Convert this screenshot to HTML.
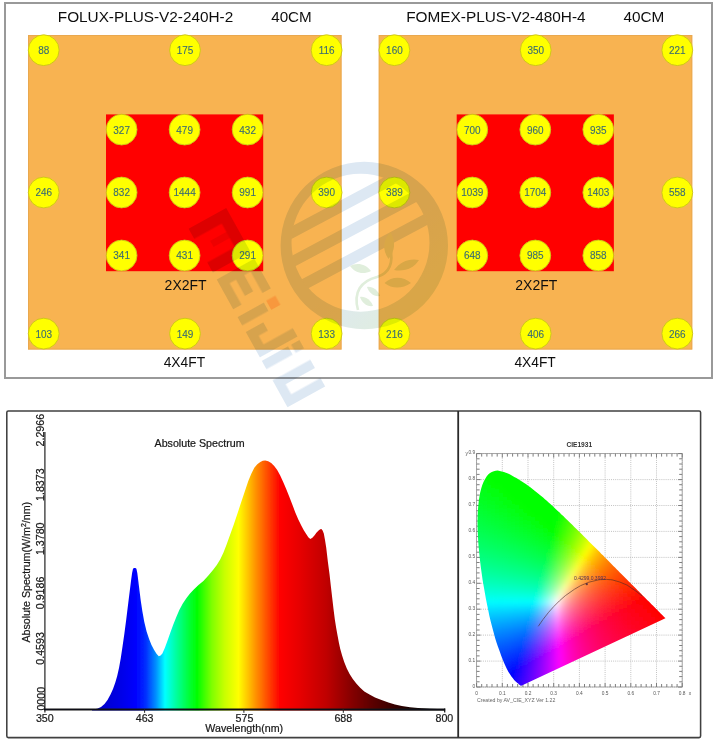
<!DOCTYPE html>
<html><head><meta charset="utf-8"><title>PPFD map and spectrum</title>
<style>
html,body{margin:0;padding:0;background:#fff;}
body{width:713px;height:746px;overflow:hidden;position:relative;font-family:"Liberation Sans", sans-serif;}
svg{position:absolute;left:0;top:0;display:block;}
text{font-family:"Liberation Sans", sans-serif;}
</style></head><body>
<svg width="713" height="746" viewBox="0 0 713 746">
<defs>
<linearGradient id="sg" gradientUnits="userSpaceOnUse" x1="97" y1="0" x2="445" y2="0">
<stop offset="0.0000" stop-color="#0000c8"/>
<stop offset="0.0661" stop-color="#0000e6"/>
<stop offset="0.1121" stop-color="#0000ff"/>
<stop offset="0.1408" stop-color="#0030ff"/>
<stop offset="0.1695" stop-color="#0090ff"/>
<stop offset="0.1954" stop-color="#00ffff"/>
<stop offset="0.2270" stop-color="#00ffa0"/>
<stop offset="0.2615" stop-color="#00ff40"/>
<stop offset="0.2874" stop-color="#00ff00"/>
<stop offset="0.3305" stop-color="#80ff00"/>
<stop offset="0.3664" stop-color="#c8ff00"/>
<stop offset="0.4066" stop-color="#ffff00"/>
<stop offset="0.4356" stop-color="#ffc000"/>
<stop offset="0.4569" stop-color="#ff9000"/>
<stop offset="0.4914" stop-color="#ff4800"/>
<stop offset="0.5259" stop-color="#ff0000"/>
<stop offset="0.5833" stop-color="#e60000"/>
<stop offset="0.6580" stop-color="#c00000"/>
<stop offset="0.6983" stop-color="#a00000"/>
<stop offset="0.7385" stop-color="#800000"/>
<stop offset="0.7845" stop-color="#600000"/>
<stop offset="0.8362" stop-color="#400000"/>
<stop offset="0.8908" stop-color="#200000"/>
<stop offset="0.9425" stop-color="#080000"/>
<stop offset="1.0000" stop-color="#000000"/>
</linearGradient>
<filter id="b0" x="-2%" y="-2%" width="104%" height="104%"><feGaussianBlur stdDeviation="0.32"/></filter>
<filter id="b1" x="-5%" y="-5%" width="110%" height="110%"><feGaussianBlur stdDeviation="0.45"/></filter>
<filter id="b2" x="-5%" y="-5%" width="110%" height="110%"><feGaussianBlur stdDeviation="0.7"/></filter>
<filter id="b3" x="-5%" y="-5%" width="110%" height="110%"><feGaussianBlur stdDeviation="2.2"/></filter>
</defs>
<rect x="5" y="3" width="707" height="375" fill="#fff" stroke="#999" stroke-width="2"/>
<g filter="url(#b0)">
<rect x="28.0" y="35" width="313.6" height="314.6" fill="#f8b351"/>
<rect x="28.5" y="35.5" width="312.6" height="313.6" fill="none" stroke="#e0a050" stroke-width="1" opacity="0.6"/>
<rect x="106.0" y="114.4" width="157.2" height="156.8" fill="#ff0000"/>
<text x="57.8" y="22.3" font-size="14.2" fill="#111" lengthAdjust="spacingAndGlyphs" textLength="175.4">FOLUX-PLUS-V2-240H-2</text>
<text x="271.2" y="22.3" font-size="14.2" fill="#111" lengthAdjust="spacingAndGlyphs" textLength="40.6">40CM</text>
<text x="185.6" y="290.3" font-size="14.2" fill="#111" text-anchor="middle" textLength="42" lengthAdjust="spacingAndGlyphs">2X2FT</text>
<text x="184.4" y="366.9" font-size="14.2" fill="#111" text-anchor="middle" textLength="41.4" lengthAdjust="spacingAndGlyphs">4X4FT</text>
<circle cx="43.7" cy="50.2" r="15.4" fill="#ffff00" stroke="#c9c31a" stroke-width="0.9"/>
<text transform="translate(43.7 54.1) scale(.95 1)" font-size="10.5" fill="#3b6c72" stroke="#3b6c72" stroke-width="0.12" text-anchor="middle">88</text>
<circle cx="185.0" cy="50.2" r="15.4" fill="#ffff00" stroke="#c9c31a" stroke-width="0.9"/>
<text transform="translate(185.0 54.1) scale(.95 1)" font-size="10.5" fill="#3b6c72" stroke="#3b6c72" stroke-width="0.12" text-anchor="middle">175</text>
<circle cx="326.6" cy="50.2" r="15.4" fill="#ffff00" stroke="#c9c31a" stroke-width="0.9"/>
<text transform="translate(326.6 54.1) scale(.95 1)" font-size="10.5" fill="#3b6c72" stroke="#3b6c72" stroke-width="0.12" text-anchor="middle">116</text>
<circle cx="43.7" cy="192.5" r="15.4" fill="#ffff00" stroke="#c9c31a" stroke-width="0.9"/>
<text transform="translate(43.7 196.4) scale(.95 1)" font-size="10.5" fill="#3b6c72" stroke="#3b6c72" stroke-width="0.12" text-anchor="middle">246</text>
<circle cx="326.6" cy="192.5" r="15.4" fill="#ffff00" stroke="#c9c31a" stroke-width="0.9"/>
<text transform="translate(326.6 196.4) scale(.95 1)" font-size="10.5" fill="#3b6c72" stroke="#3b6c72" stroke-width="0.12" text-anchor="middle">390</text>
<circle cx="43.7" cy="333.6" r="15.4" fill="#ffff00" stroke="#c9c31a" stroke-width="0.9"/>
<text transform="translate(43.7 337.5) scale(.95 1)" font-size="10.5" fill="#3b6c72" stroke="#3b6c72" stroke-width="0.12" text-anchor="middle">103</text>
<circle cx="185.0" cy="333.6" r="15.4" fill="#ffff00" stroke="#c9c31a" stroke-width="0.9"/>
<text transform="translate(185.0 337.5) scale(.95 1)" font-size="10.5" fill="#3b6c72" stroke="#3b6c72" stroke-width="0.12" text-anchor="middle">149</text>
<circle cx="326.6" cy="333.6" r="15.4" fill="#ffff00" stroke="#c9c31a" stroke-width="0.9"/>
<text transform="translate(326.6 337.5) scale(.95 1)" font-size="10.5" fill="#3b6c72" stroke="#3b6c72" stroke-width="0.12" text-anchor="middle">133</text>
<circle cx="121.6" cy="129.6" r="15.4" fill="#ffff00" stroke="#c9c31a" stroke-width="0.9"/>
<text transform="translate(121.6 133.5) scale(.95 1)" font-size="10.5" fill="#3b6c72" stroke="#3b6c72" stroke-width="0.12" text-anchor="middle">327</text>
<circle cx="184.6" cy="129.6" r="15.4" fill="#ffff00" stroke="#c9c31a" stroke-width="0.9"/>
<text transform="translate(184.6 133.5) scale(.95 1)" font-size="10.5" fill="#3b6c72" stroke="#3b6c72" stroke-width="0.12" text-anchor="middle">479</text>
<circle cx="247.6" cy="129.6" r="15.4" fill="#ffff00" stroke="#c9c31a" stroke-width="0.9"/>
<text transform="translate(247.6 133.5) scale(.95 1)" font-size="10.5" fill="#3b6c72" stroke="#3b6c72" stroke-width="0.12" text-anchor="middle">432</text>
<circle cx="121.6" cy="192.5" r="15.4" fill="#ffff00" stroke="#c9c31a" stroke-width="0.9"/>
<text transform="translate(121.6 196.4) scale(.95 1)" font-size="10.5" fill="#3b6c72" stroke="#3b6c72" stroke-width="0.12" text-anchor="middle">832</text>
<circle cx="184.6" cy="192.5" r="15.4" fill="#ffff00" stroke="#c9c31a" stroke-width="0.9"/>
<text transform="translate(184.6 196.4) scale(.95 1)" font-size="10.5" fill="#3b6c72" stroke="#3b6c72" stroke-width="0.12" text-anchor="middle">1444</text>
<circle cx="247.6" cy="192.5" r="15.4" fill="#ffff00" stroke="#c9c31a" stroke-width="0.9"/>
<text transform="translate(247.6 196.4) scale(.95 1)" font-size="10.5" fill="#3b6c72" stroke="#3b6c72" stroke-width="0.12" text-anchor="middle">991</text>
<circle cx="121.6" cy="255.5" r="15.4" fill="#ffff00" stroke="#c9c31a" stroke-width="0.9"/>
<text transform="translate(121.6 259.4) scale(.95 1)" font-size="10.5" fill="#3b6c72" stroke="#3b6c72" stroke-width="0.12" text-anchor="middle">341</text>
<circle cx="184.6" cy="255.5" r="15.4" fill="#ffff00" stroke="#c9c31a" stroke-width="0.9"/>
<text transform="translate(184.6 259.4) scale(.95 1)" font-size="10.5" fill="#3b6c72" stroke="#3b6c72" stroke-width="0.12" text-anchor="middle">431</text>
<circle cx="247.6" cy="255.5" r="15.4" fill="#ffff00" stroke="#c9c31a" stroke-width="0.9"/>
<text transform="translate(247.6 259.4) scale(.95 1)" font-size="10.5" fill="#3b6c72" stroke="#3b6c72" stroke-width="0.12" text-anchor="middle">291</text>
<rect x="378.7" y="35" width="313.6" height="314.6" fill="#f8b351"/>
<rect x="379.2" y="35.5" width="312.6" height="313.6" fill="none" stroke="#e0a050" stroke-width="1" opacity="0.6"/>
<rect x="456.7" y="114.4" width="157.2" height="156.8" fill="#ff0000"/>
<text x="406.2" y="22.3" font-size="14.2" fill="#111" lengthAdjust="spacingAndGlyphs" textLength="179.4">FOMEX-PLUS-V2-480H-4</text>
<text x="623.4" y="22.3" font-size="14.2" fill="#111" lengthAdjust="spacingAndGlyphs" textLength="40.9">40CM</text>
<text x="536.3" y="290.3" font-size="14.2" fill="#111" text-anchor="middle" textLength="42" lengthAdjust="spacingAndGlyphs">2X2FT</text>
<text x="535.1" y="366.9" font-size="14.2" fill="#111" text-anchor="middle" textLength="41.4" lengthAdjust="spacingAndGlyphs">4X4FT</text>
<circle cx="394.4" cy="50.2" r="15.4" fill="#ffff00" stroke="#c9c31a" stroke-width="0.9"/>
<text transform="translate(394.4 54.1) scale(.95 1)" font-size="10.5" fill="#3b6c72" stroke="#3b6c72" stroke-width="0.12" text-anchor="middle">160</text>
<circle cx="535.7" cy="50.2" r="15.4" fill="#ffff00" stroke="#c9c31a" stroke-width="0.9"/>
<text transform="translate(535.7 54.1) scale(.95 1)" font-size="10.5" fill="#3b6c72" stroke="#3b6c72" stroke-width="0.12" text-anchor="middle">350</text>
<circle cx="677.3" cy="50.2" r="15.4" fill="#ffff00" stroke="#c9c31a" stroke-width="0.9"/>
<text transform="translate(677.3 54.1) scale(.95 1)" font-size="10.5" fill="#3b6c72" stroke="#3b6c72" stroke-width="0.12" text-anchor="middle">221</text>
<circle cx="394.4" cy="192.5" r="15.4" fill="#ffff00" stroke="#c9c31a" stroke-width="0.9"/>
<text transform="translate(394.4 196.4) scale(.95 1)" font-size="10.5" fill="#3b6c72" stroke="#3b6c72" stroke-width="0.12" text-anchor="middle">389</text>
<circle cx="677.3" cy="192.5" r="15.4" fill="#ffff00" stroke="#c9c31a" stroke-width="0.9"/>
<text transform="translate(677.3 196.4) scale(.95 1)" font-size="10.5" fill="#3b6c72" stroke="#3b6c72" stroke-width="0.12" text-anchor="middle">558</text>
<circle cx="394.4" cy="333.6" r="15.4" fill="#ffff00" stroke="#c9c31a" stroke-width="0.9"/>
<text transform="translate(394.4 337.5) scale(.95 1)" font-size="10.5" fill="#3b6c72" stroke="#3b6c72" stroke-width="0.12" text-anchor="middle">216</text>
<circle cx="535.7" cy="333.6" r="15.4" fill="#ffff00" stroke="#c9c31a" stroke-width="0.9"/>
<text transform="translate(535.7 337.5) scale(.95 1)" font-size="10.5" fill="#3b6c72" stroke="#3b6c72" stroke-width="0.12" text-anchor="middle">406</text>
<circle cx="677.3" cy="333.6" r="15.4" fill="#ffff00" stroke="#c9c31a" stroke-width="0.9"/>
<text transform="translate(677.3 337.5) scale(.95 1)" font-size="10.5" fill="#3b6c72" stroke="#3b6c72" stroke-width="0.12" text-anchor="middle">266</text>
<circle cx="472.3" cy="129.6" r="15.4" fill="#ffff00" stroke="#c9c31a" stroke-width="0.9"/>
<text transform="translate(472.3 133.5) scale(.95 1)" font-size="10.5" fill="#3b6c72" stroke="#3b6c72" stroke-width="0.12" text-anchor="middle">700</text>
<circle cx="535.3" cy="129.6" r="15.4" fill="#ffff00" stroke="#c9c31a" stroke-width="0.9"/>
<text transform="translate(535.3 133.5) scale(.95 1)" font-size="10.5" fill="#3b6c72" stroke="#3b6c72" stroke-width="0.12" text-anchor="middle">960</text>
<circle cx="598.3" cy="129.6" r="15.4" fill="#ffff00" stroke="#c9c31a" stroke-width="0.9"/>
<text transform="translate(598.3 133.5) scale(.95 1)" font-size="10.5" fill="#3b6c72" stroke="#3b6c72" stroke-width="0.12" text-anchor="middle">935</text>
<circle cx="472.3" cy="192.5" r="15.4" fill="#ffff00" stroke="#c9c31a" stroke-width="0.9"/>
<text transform="translate(472.3 196.4) scale(.95 1)" font-size="10.5" fill="#3b6c72" stroke="#3b6c72" stroke-width="0.12" text-anchor="middle">1039</text>
<circle cx="535.3" cy="192.5" r="15.4" fill="#ffff00" stroke="#c9c31a" stroke-width="0.9"/>
<text transform="translate(535.3 196.4) scale(.95 1)" font-size="10.5" fill="#3b6c72" stroke="#3b6c72" stroke-width="0.12" text-anchor="middle">1704</text>
<circle cx="598.3" cy="192.5" r="15.4" fill="#ffff00" stroke="#c9c31a" stroke-width="0.9"/>
<text transform="translate(598.3 196.4) scale(.95 1)" font-size="10.5" fill="#3b6c72" stroke="#3b6c72" stroke-width="0.12" text-anchor="middle">1403</text>
<circle cx="472.3" cy="255.5" r="15.4" fill="#ffff00" stroke="#c9c31a" stroke-width="0.9"/>
<text transform="translate(472.3 259.4) scale(.95 1)" font-size="10.5" fill="#3b6c72" stroke="#3b6c72" stroke-width="0.12" text-anchor="middle">648</text>
<circle cx="535.3" cy="255.5" r="15.4" fill="#ffff00" stroke="#c9c31a" stroke-width="0.9"/>
<text transform="translate(535.3 259.4) scale(.95 1)" font-size="10.5" fill="#3b6c72" stroke="#3b6c72" stroke-width="0.12" text-anchor="middle">985</text>
<circle cx="598.3" cy="255.5" r="15.4" fill="#ffff00" stroke="#c9c31a" stroke-width="0.9"/>
<text transform="translate(598.3 259.4) scale(.95 1)" font-size="10.5" fill="#3b6c72" stroke="#3b6c72" stroke-width="0.12" text-anchor="middle">858</text>
</g>
<rect x="6.8" y="411" width="693.8" height="326.6" fill="#fff" stroke="#404040" stroke-width="1.55" rx="1.5"/>
<line x1="458.2" y1="411" x2="458.2" y2="737.6" stroke="#2a2a2a" stroke-width="1.8"/>
<g filter="url(#b1)">
<path d="M92.0 710.4 L92.0 709.4 L97.2 708.8 L101.0 707.0 L104.5 704.0 L107.5 700.0 L110.5 694.5 L113.0 689.0 L115.3 682.4 L117.2 676.0 L119.0 668.0 L120.8 658.0 L122.6 646.0 L124.4 633.5 L126.2 619.7 L128.6 600.3 L131.0 581.0 L132.1 573.0 L133.0 568.8 L134.0 567.9 L135.4 567.9 L136.4 568.8 L137.3 573.0 L138.3 581.0 L140.7 600.3 L142.4 611.5 L144.3 622.0 L146.6 631.5 L149.1 639.0 L151.5 645.0 L154.0 649.8 L156.5 653.8 L158.8 656.3 L160.6 655.6 L162.4 653.4 L164.8 648.0 L167.2 641.4 L170.2 633.0 L173.3 624.5 L176.3 617.0 L179.3 610.0 L182.8 603.6 L186.5 598.0 L190.0 593.5 L193.8 589.5 L198.5 585.0 L203.4 581.0 L208.4 575.5 L213.0 570.0 L216.8 565.0 L220.3 559.3 L223.5 552.5 L226.6 544.5 L230.2 534.5 L233.8 524.5 L237.4 513.7 L241.0 502.8 L244.6 492.0 L248.3 481.0 L251.3 473.7 L254.3 467.8 L257.3 464.2 L260.3 461.9 L262.8 460.8 L265.2 460.5 L268.2 461.3 L271.2 463.0 L274.2 466.0 L277.2 470.0 L280.2 475.6 L283.3 482.2 L286.3 489.3 L289.3 496.7 L292.3 504.6 L295.3 512.4 L298.3 519.4 L301.4 525.7 L303.8 530.2 L306.2 534.0 L308.3 537.2 L310.3 539.0 L312.4 537.8 L314.6 535.3 L316.6 532.6 L318.6 530.4 L320.2 529.2 L321.4 529.0 L322.6 530.4 L323.8 533.4 L325.0 540.0 L326.2 547.5 L327.9 562.0 L329.5 574.0 L330.9 586.5 L332.2 597.7 L333.5 609.0 L334.8 619.2 L336.1 627.6 L337.5 635.3 L338.8 642.3 L340.2 648.7 L342.1 655.6 L344.2 662.0 L346.8 668.4 L349.6 674.0 L352.8 679.0 L356.3 683.5 L360.2 687.7 L364.3 691.5 L369.5 694.6 L375.0 697.4 L381.5 700.0 L388.4 702.4 L395.0 704.4 L401.8 705.9 L410.0 707.2 L418.0 708.0 L430.0 708.7 L444.7 709.2 L444.7 710.4 Z" fill="url(#sg)"/>
</g>
<g filter="url(#b1)">
<line x1="44.9" y1="432" x2="44.9" y2="712.4" stroke="#222" stroke-width="1.2"/>
<line x1="44" y1="709.5" x2="445.2" y2="709.5" stroke="#101018" stroke-width="2.1"/>
<line x1="144.6" y1="709" x2="144.6" y2="712.8" stroke="#222" stroke-width="1"/>
<line x1="243.9" y1="709" x2="243.9" y2="712.8" stroke="#222" stroke-width="1"/>
<line x1="343.3" y1="709" x2="343.3" y2="712.8" stroke="#222" stroke-width="1"/>
<line x1="444.7" y1="708.4" x2="444.7" y2="712.6" stroke="#111" stroke-width="1.2"/>
</g>
<g filter="url(#b1)" fill="#1a1a1a" stroke="#1a1a1a" stroke-width="0.22" font-size="10.67">
<text x="199.6" y="446.8" text-anchor="middle">Absolute Spectrum</text>
<text x="244.2" y="732.1" text-anchor="middle">Wavelength(nm)</text>
<text x="44.8" y="722.2" text-anchor="middle">350</text>
<text x="144.6" y="722.2" text-anchor="middle">463</text>
<text x="244.5" y="722.2" text-anchor="middle">575</text>
<text x="343.3" y="722.2" text-anchor="middle">688</text>
<text x="444.4" y="722.2" text-anchor="middle">800</text>
<text transform="translate(29.6 572.2) rotate(-90)" text-anchor="middle">Absolute Spectrum(W/m<tspan font-size="7" dy="-3.4">2</tspan><tspan dy="3.4">/nm)</tspan></text>
<text transform="translate(44.4 430.2) rotate(-90)" text-anchor="middle">2.2966</text>
<text transform="translate(44.4 484.7) rotate(-90)" text-anchor="middle">1.8373</text>
<text transform="translate(44.4 538.8) rotate(-90)" text-anchor="middle">1.3780</text>
<text transform="translate(44.4 592.9) rotate(-90)" text-anchor="middle">0.9186</text>
<text transform="translate(44.4 648.4) rotate(-90)" text-anchor="middle">0.4593</text>
<text transform="translate(45.0 710.6) rotate(-90)" text-anchor="start">0000</text>
</g>
<clipPath id="cl"><path d="M521.3 685.7 L521.3 685.7 L521.3 685.7 L521.3 685.7 L521.2 685.8 L521.1 685.8 L521.1 685.8 L521.0 685.8 L520.9 685.7 L520.8 685.7 L520.6 685.7 L520.5 685.6 L520.4 685.5 L520.3 685.5 L520.2 685.3 L520.0 685.2 L519.8 685.1 L519.6 684.9 L519.4 684.7 L519.1 684.4 L518.9 684.2 L518.5 683.9 L518.2 683.6 L517.8 683.2 L517.3 682.9 L516.8 682.4 L516.3 681.9 L515.7 681.5 L515.1 680.9 L514.4 680.2 L513.6 679.3 L512.7 678.1 L511.6 676.7 L510.5 675.1 L509.5 673.6 L508.5 672.0 L507.7 670.6 L507.0 669.2 L506.3 667.8 L505.6 666.3 L504.8 664.5 L503.9 662.5 L503.0 660.3 L502.1 658.0 L501.1 655.4 L500.1 652.6 L499.0 649.5 L497.8 646.3 L496.6 642.8 L495.4 639.0 L494.3 635.0 L493.1 630.6 L491.9 626.0 L490.6 621.1 L489.4 615.9 L488.3 610.5 L487.1 604.8 L485.9 598.8 L484.8 592.6 L483.7 586.3 L482.6 580.0 L481.7 573.6 L480.8 567.0 L480.0 560.4 L479.3 553.8 L478.7 547.4 L478.2 541.1 L477.9 534.9 L477.6 528.8 L477.5 522.9 L477.6 517.2 L477.8 511.8 L478.2 506.5 L478.7 501.5 L479.4 496.8 L480.2 492.5 L481.2 488.5 L482.3 484.9 L483.6 481.7 L485.1 478.9 L486.6 476.4 L488.2 474.5 L490.0 473.1 L491.8 472.0 L493.8 471.3 L495.7 470.8 L497.7 470.6 L499.7 470.9 L501.8 471.4 L503.9 472.0 L505.9 472.8 L508.0 473.6 L510.1 474.6 L512.2 475.7 L514.3 476.9 L516.4 478.0 L518.4 479.2 L520.3 480.4 L522.3 481.7 L524.2 483.0 L526.2 484.3 L528.1 485.7 L530.0 487.1 L531.9 488.5 L533.7 489.9 L535.6 491.4 L537.5 492.9 L539.3 494.4 L541.2 496.0 L543.1 497.6 L544.9 499.2 L546.8 500.8 L548.6 502.5 L550.4 504.1 L552.3 505.8 L554.1 507.5 L555.9 509.2 L557.8 510.9 L559.6 512.6 L561.4 514.4 L563.3 516.1 L565.1 517.9 L567.0 519.7 L568.8 521.5 L570.6 523.3 L572.5 525.1 L574.3 526.9 L576.2 528.7 L578.0 530.5 L579.8 532.3 L581.6 534.1 L583.5 535.9 L585.3 537.7 L587.1 539.6 L588.9 541.4 L590.7 543.2 L592.5 545.0 L594.3 546.8 L596.1 548.6 L597.9 550.3 L599.7 552.1 L601.4 553.9 L603.2 555.6 L604.9 557.4 L606.6 559.1 L608.3 560.8 L610.0 562.5 L611.7 564.2 L613.3 565.9 L615.0 567.5 L616.6 569.2 L618.2 570.8 L619.8 572.4 L621.4 573.9 L622.9 575.5 L624.4 577.0 L625.9 578.5 L627.4 580.0 L628.8 581.4 L630.2 582.8 L631.5 584.2 L632.9 585.5 L634.1 586.8 L635.4 588.0 L636.6 589.2 L637.7 590.4 L638.9 591.6 L640.0 592.7 L641.1 593.8 L642.2 594.9 L643.2 595.9 L644.1 596.8 L645.0 597.7 L645.8 598.5 L646.7 599.4 L647.7 600.4 L648.9 601.6 L650.3 603.0 L651.7 604.5 L653.1 605.8 L654.3 607.1 L655.3 608.1 L656.2 609.0 L657.1 609.8 L657.8 610.6 L658.5 611.3 L659.2 612.0 L659.8 612.6 L660.4 613.2 L660.9 613.7 L661.4 614.2 L661.8 614.6 L662.2 615.0 L662.6 615.3 L662.9 615.7 L663.2 616.0 L663.4 616.2 L663.6 616.4 L663.8 616.6 L664.0 616.8 L664.2 617.0 L664.5 617.2 L664.7 617.5 L665.0 617.8 L665.3 618.0 L665.4 618.2 Z"/></clipPath>
<g stroke="#b4b4b4" stroke-width="0.8" stroke-dasharray="1 1.1" filter="url(#b1)">
<line x1="476.6" y1="453.6" x2="476.6" y2="687.0"/>
<line x1="502.3" y1="453.6" x2="502.3" y2="687.0"/>
<line x1="528.0" y1="453.6" x2="528.0" y2="687.0"/>
<line x1="553.7" y1="453.6" x2="553.7" y2="687.0"/>
<line x1="579.4" y1="453.6" x2="579.4" y2="687.0"/>
<line x1="605.1" y1="453.6" x2="605.1" y2="687.0"/>
<line x1="630.8" y1="453.6" x2="630.8" y2="687.0"/>
<line x1="656.5" y1="453.6" x2="656.5" y2="687.0"/>
<line x1="682.2" y1="453.6" x2="682.2" y2="687.0"/>
<line x1="476.6" y1="687.0" x2="682.2" y2="687.0"/>
<line x1="476.6" y1="661.1" x2="682.2" y2="661.1"/>
<line x1="476.6" y1="635.1" x2="682.2" y2="635.1"/>
<line x1="476.6" y1="609.2" x2="682.2" y2="609.2"/>
<line x1="476.6" y1="583.3" x2="682.2" y2="583.3"/>
<line x1="476.6" y1="557.4" x2="682.2" y2="557.4"/>
<line x1="476.6" y1="531.4" x2="682.2" y2="531.4"/>
<line x1="476.6" y1="505.5" x2="682.2" y2="505.5"/>
<line x1="476.6" y1="479.6" x2="682.2" y2="479.6"/>
<line x1="476.6" y1="453.6" x2="682.2" y2="453.6"/>
</g>
<g stroke="#787878" stroke-width="0.95" filter="url(#b1)">
<rect x="476.6" y="453.6" width="205.6" height="233.4" fill="none" stroke="#999" stroke-width="0.8"/>
<line x1="476.6" y1="687.0" x2="476.6" y2="683.0"/>
<line x1="476.6" y1="453.6" x2="476.6" y2="457.6"/>
<line x1="481.7" y1="687.0" x2="481.7" y2="684.0"/>
<line x1="481.7" y1="453.6" x2="481.7" y2="456.6"/>
<line x1="486.9" y1="687.0" x2="486.9" y2="684.0"/>
<line x1="486.9" y1="453.6" x2="486.9" y2="456.6"/>
<line x1="492.0" y1="687.0" x2="492.0" y2="684.0"/>
<line x1="492.0" y1="453.6" x2="492.0" y2="456.6"/>
<line x1="497.2" y1="687.0" x2="497.2" y2="684.0"/>
<line x1="497.2" y1="453.6" x2="497.2" y2="456.6"/>
<line x1="502.3" y1="687.0" x2="502.3" y2="683.0"/>
<line x1="502.3" y1="453.6" x2="502.3" y2="457.6"/>
<line x1="507.4" y1="687.0" x2="507.4" y2="684.0"/>
<line x1="507.4" y1="453.6" x2="507.4" y2="456.6"/>
<line x1="512.6" y1="687.0" x2="512.6" y2="684.0"/>
<line x1="512.6" y1="453.6" x2="512.6" y2="456.6"/>
<line x1="517.7" y1="687.0" x2="517.7" y2="684.0"/>
<line x1="517.7" y1="453.6" x2="517.7" y2="456.6"/>
<line x1="522.9" y1="687.0" x2="522.9" y2="684.0"/>
<line x1="522.9" y1="453.6" x2="522.9" y2="456.6"/>
<line x1="528.0" y1="687.0" x2="528.0" y2="683.0"/>
<line x1="528.0" y1="453.6" x2="528.0" y2="457.6"/>
<line x1="533.1" y1="687.0" x2="533.1" y2="684.0"/>
<line x1="533.1" y1="453.6" x2="533.1" y2="456.6"/>
<line x1="538.3" y1="687.0" x2="538.3" y2="684.0"/>
<line x1="538.3" y1="453.6" x2="538.3" y2="456.6"/>
<line x1="543.4" y1="687.0" x2="543.4" y2="684.0"/>
<line x1="543.4" y1="453.6" x2="543.4" y2="456.6"/>
<line x1="548.6" y1="687.0" x2="548.6" y2="684.0"/>
<line x1="548.6" y1="453.6" x2="548.6" y2="456.6"/>
<line x1="553.7" y1="687.0" x2="553.7" y2="683.0"/>
<line x1="553.7" y1="453.6" x2="553.7" y2="457.6"/>
<line x1="558.8" y1="687.0" x2="558.8" y2="684.0"/>
<line x1="558.8" y1="453.6" x2="558.8" y2="456.6"/>
<line x1="564.0" y1="687.0" x2="564.0" y2="684.0"/>
<line x1="564.0" y1="453.6" x2="564.0" y2="456.6"/>
<line x1="569.1" y1="687.0" x2="569.1" y2="684.0"/>
<line x1="569.1" y1="453.6" x2="569.1" y2="456.6"/>
<line x1="574.3" y1="687.0" x2="574.3" y2="684.0"/>
<line x1="574.3" y1="453.6" x2="574.3" y2="456.6"/>
<line x1="579.4" y1="687.0" x2="579.4" y2="683.0"/>
<line x1="579.4" y1="453.6" x2="579.4" y2="457.6"/>
<line x1="584.5" y1="687.0" x2="584.5" y2="684.0"/>
<line x1="584.5" y1="453.6" x2="584.5" y2="456.6"/>
<line x1="589.7" y1="687.0" x2="589.7" y2="684.0"/>
<line x1="589.7" y1="453.6" x2="589.7" y2="456.6"/>
<line x1="594.8" y1="687.0" x2="594.8" y2="684.0"/>
<line x1="594.8" y1="453.6" x2="594.8" y2="456.6"/>
<line x1="600.0" y1="687.0" x2="600.0" y2="684.0"/>
<line x1="600.0" y1="453.6" x2="600.0" y2="456.6"/>
<line x1="605.1" y1="687.0" x2="605.1" y2="683.0"/>
<line x1="605.1" y1="453.6" x2="605.1" y2="457.6"/>
<line x1="610.2" y1="687.0" x2="610.2" y2="684.0"/>
<line x1="610.2" y1="453.6" x2="610.2" y2="456.6"/>
<line x1="615.4" y1="687.0" x2="615.4" y2="684.0"/>
<line x1="615.4" y1="453.6" x2="615.4" y2="456.6"/>
<line x1="620.5" y1="687.0" x2="620.5" y2="684.0"/>
<line x1="620.5" y1="453.6" x2="620.5" y2="456.6"/>
<line x1="625.7" y1="687.0" x2="625.7" y2="684.0"/>
<line x1="625.7" y1="453.6" x2="625.7" y2="456.6"/>
<line x1="630.8" y1="687.0" x2="630.8" y2="683.0"/>
<line x1="630.8" y1="453.6" x2="630.8" y2="457.6"/>
<line x1="635.9" y1="687.0" x2="635.9" y2="684.0"/>
<line x1="635.9" y1="453.6" x2="635.9" y2="456.6"/>
<line x1="641.1" y1="687.0" x2="641.1" y2="684.0"/>
<line x1="641.1" y1="453.6" x2="641.1" y2="456.6"/>
<line x1="646.2" y1="687.0" x2="646.2" y2="684.0"/>
<line x1="646.2" y1="453.6" x2="646.2" y2="456.6"/>
<line x1="651.4" y1="687.0" x2="651.4" y2="684.0"/>
<line x1="651.4" y1="453.6" x2="651.4" y2="456.6"/>
<line x1="656.5" y1="687.0" x2="656.5" y2="683.0"/>
<line x1="656.5" y1="453.6" x2="656.5" y2="457.6"/>
<line x1="661.6" y1="687.0" x2="661.6" y2="684.0"/>
<line x1="661.6" y1="453.6" x2="661.6" y2="456.6"/>
<line x1="666.8" y1="687.0" x2="666.8" y2="684.0"/>
<line x1="666.8" y1="453.6" x2="666.8" y2="456.6"/>
<line x1="671.9" y1="687.0" x2="671.9" y2="684.0"/>
<line x1="671.9" y1="453.6" x2="671.9" y2="456.6"/>
<line x1="677.1" y1="687.0" x2="677.1" y2="684.0"/>
<line x1="677.1" y1="453.6" x2="677.1" y2="456.6"/>
<line x1="682.2" y1="687.0" x2="682.2" y2="683.0"/>
<line x1="682.2" y1="453.6" x2="682.2" y2="457.6"/>
<line x1="476.6" y1="687.0" x2="480.6" y2="687.0"/>
<line x1="682.2" y1="687.0" x2="678.2" y2="687.0"/>
<line x1="476.6" y1="681.8" x2="479.6" y2="681.8"/>
<line x1="682.2" y1="681.8" x2="679.2" y2="681.8"/>
<line x1="476.6" y1="676.6" x2="479.6" y2="676.6"/>
<line x1="682.2" y1="676.6" x2="679.2" y2="676.6"/>
<line x1="476.6" y1="671.4" x2="479.6" y2="671.4"/>
<line x1="682.2" y1="671.4" x2="679.2" y2="671.4"/>
<line x1="476.6" y1="666.3" x2="479.6" y2="666.3"/>
<line x1="682.2" y1="666.3" x2="679.2" y2="666.3"/>
<line x1="476.6" y1="661.1" x2="480.6" y2="661.1"/>
<line x1="682.2" y1="661.1" x2="678.2" y2="661.1"/>
<line x1="476.6" y1="655.9" x2="479.6" y2="655.9"/>
<line x1="682.2" y1="655.9" x2="679.2" y2="655.9"/>
<line x1="476.6" y1="650.7" x2="479.6" y2="650.7"/>
<line x1="682.2" y1="650.7" x2="679.2" y2="650.7"/>
<line x1="476.6" y1="645.5" x2="479.6" y2="645.5"/>
<line x1="682.2" y1="645.5" x2="679.2" y2="645.5"/>
<line x1="476.6" y1="640.3" x2="479.6" y2="640.3"/>
<line x1="682.2" y1="640.3" x2="679.2" y2="640.3"/>
<line x1="476.6" y1="635.1" x2="480.6" y2="635.1"/>
<line x1="682.2" y1="635.1" x2="678.2" y2="635.1"/>
<line x1="476.6" y1="630.0" x2="479.6" y2="630.0"/>
<line x1="682.2" y1="630.0" x2="679.2" y2="630.0"/>
<line x1="476.6" y1="624.8" x2="479.6" y2="624.8"/>
<line x1="682.2" y1="624.8" x2="679.2" y2="624.8"/>
<line x1="476.6" y1="619.6" x2="479.6" y2="619.6"/>
<line x1="682.2" y1="619.6" x2="679.2" y2="619.6"/>
<line x1="476.6" y1="614.4" x2="479.6" y2="614.4"/>
<line x1="682.2" y1="614.4" x2="679.2" y2="614.4"/>
<line x1="476.6" y1="609.2" x2="480.6" y2="609.2"/>
<line x1="682.2" y1="609.2" x2="678.2" y2="609.2"/>
<line x1="476.6" y1="604.0" x2="479.6" y2="604.0"/>
<line x1="682.2" y1="604.0" x2="679.2" y2="604.0"/>
<line x1="476.6" y1="598.8" x2="479.6" y2="598.8"/>
<line x1="682.2" y1="598.8" x2="679.2" y2="598.8"/>
<line x1="476.6" y1="593.7" x2="479.6" y2="593.7"/>
<line x1="682.2" y1="593.7" x2="679.2" y2="593.7"/>
<line x1="476.6" y1="588.5" x2="479.6" y2="588.5"/>
<line x1="682.2" y1="588.5" x2="679.2" y2="588.5"/>
<line x1="476.6" y1="583.3" x2="480.6" y2="583.3"/>
<line x1="682.2" y1="583.3" x2="678.2" y2="583.3"/>
<line x1="476.6" y1="578.1" x2="479.6" y2="578.1"/>
<line x1="682.2" y1="578.1" x2="679.2" y2="578.1"/>
<line x1="476.6" y1="572.9" x2="479.6" y2="572.9"/>
<line x1="682.2" y1="572.9" x2="679.2" y2="572.9"/>
<line x1="476.6" y1="567.7" x2="479.6" y2="567.7"/>
<line x1="682.2" y1="567.7" x2="679.2" y2="567.7"/>
<line x1="476.6" y1="562.5" x2="479.6" y2="562.5"/>
<line x1="682.2" y1="562.5" x2="679.2" y2="562.5"/>
<line x1="476.6" y1="557.4" x2="480.6" y2="557.4"/>
<line x1="682.2" y1="557.4" x2="678.2" y2="557.4"/>
<line x1="476.6" y1="552.2" x2="479.6" y2="552.2"/>
<line x1="682.2" y1="552.2" x2="679.2" y2="552.2"/>
<line x1="476.6" y1="547.0" x2="479.6" y2="547.0"/>
<line x1="682.2" y1="547.0" x2="679.2" y2="547.0"/>
<line x1="476.6" y1="541.8" x2="479.6" y2="541.8"/>
<line x1="682.2" y1="541.8" x2="679.2" y2="541.8"/>
<line x1="476.6" y1="536.6" x2="479.6" y2="536.6"/>
<line x1="682.2" y1="536.6" x2="679.2" y2="536.6"/>
<line x1="476.6" y1="531.4" x2="480.6" y2="531.4"/>
<line x1="682.2" y1="531.4" x2="678.2" y2="531.4"/>
<line x1="476.6" y1="526.2" x2="479.6" y2="526.2"/>
<line x1="682.2" y1="526.2" x2="679.2" y2="526.2"/>
<line x1="476.6" y1="521.0" x2="479.6" y2="521.0"/>
<line x1="682.2" y1="521.0" x2="679.2" y2="521.0"/>
<line x1="476.6" y1="515.9" x2="479.6" y2="515.9"/>
<line x1="682.2" y1="515.9" x2="679.2" y2="515.9"/>
<line x1="476.6" y1="510.7" x2="479.6" y2="510.7"/>
<line x1="682.2" y1="510.7" x2="679.2" y2="510.7"/>
<line x1="476.6" y1="505.5" x2="480.6" y2="505.5"/>
<line x1="682.2" y1="505.5" x2="678.2" y2="505.5"/>
<line x1="476.6" y1="500.3" x2="479.6" y2="500.3"/>
<line x1="682.2" y1="500.3" x2="679.2" y2="500.3"/>
<line x1="476.6" y1="495.1" x2="479.6" y2="495.1"/>
<line x1="682.2" y1="495.1" x2="679.2" y2="495.1"/>
<line x1="476.6" y1="489.9" x2="479.6" y2="489.9"/>
<line x1="682.2" y1="489.9" x2="679.2" y2="489.9"/>
<line x1="476.6" y1="484.7" x2="479.6" y2="484.7"/>
<line x1="682.2" y1="484.7" x2="679.2" y2="484.7"/>
<line x1="476.6" y1="479.6" x2="480.6" y2="479.6"/>
<line x1="682.2" y1="479.6" x2="678.2" y2="479.6"/>
<line x1="476.6" y1="474.4" x2="479.6" y2="474.4"/>
<line x1="682.2" y1="474.4" x2="679.2" y2="474.4"/>
<line x1="476.6" y1="469.2" x2="479.6" y2="469.2"/>
<line x1="682.2" y1="469.2" x2="679.2" y2="469.2"/>
<line x1="476.6" y1="464.0" x2="479.6" y2="464.0"/>
<line x1="682.2" y1="464.0" x2="679.2" y2="464.0"/>
<line x1="476.6" y1="458.8" x2="479.6" y2="458.8"/>
<line x1="682.2" y1="458.8" x2="679.2" y2="458.8"/>
<line x1="476.6" y1="453.6" x2="480.6" y2="453.6"/>
<line x1="682.2" y1="453.6" x2="678.2" y2="453.6"/>
</g>
<g clip-path="url(#cl)"><g filter="url(#b3)">
<rect x="483.5" y="464.6" width="32.4" height="4.4" fill="#00ff00"/>
<rect x="479.5" y="468.6" width="44.4" height="4.4" fill="#00ff00"/>
<rect x="475.5" y="472.6" width="4.4" height="4.4" fill="#00ff06"/>
<rect x="479.5" y="472.6" width="4.4" height="4.4" fill="#00ff02"/>
<rect x="483.5" y="472.6" width="44.4" height="4.4" fill="#00ff00"/>
<rect x="475.5" y="476.6" width="4.4" height="4.4" fill="#00ff0b"/>
<rect x="479.5" y="476.6" width="4.4" height="4.4" fill="#00ff07"/>
<rect x="483.5" y="476.6" width="4.4" height="4.4" fill="#00ff03"/>
<rect x="487.5" y="476.6" width="48.4" height="4.4" fill="#00ff00"/>
<rect x="475.5" y="480.6" width="4.4" height="4.4" fill="#00ff10"/>
<rect x="479.5" y="480.6" width="4.4" height="4.4" fill="#00ff0c"/>
<rect x="483.5" y="480.6" width="4.4" height="4.4" fill="#00ff08"/>
<rect x="487.5" y="480.6" width="4.4" height="4.4" fill="#00ff04"/>
<rect x="491.5" y="480.6" width="48.4" height="4.4" fill="#00ff00"/>
<rect x="471.5" y="484.6" width="4.4" height="4.4" fill="#00ff15"/>
<rect x="475.5" y="484.6" width="4.4" height="4.4" fill="#00ff14"/>
<rect x="479.5" y="484.6" width="4.4" height="4.4" fill="#00ff11"/>
<rect x="483.5" y="484.6" width="4.4" height="4.4" fill="#00ff0d"/>
<rect x="487.5" y="484.6" width="4.4" height="4.4" fill="#00ff0a"/>
<rect x="491.5" y="484.6" width="4.4" height="4.4" fill="#00ff05"/>
<rect x="495.5" y="484.6" width="4.4" height="4.4" fill="#00ff01"/>
<rect x="499.5" y="484.6" width="44.4" height="4.4" fill="#00ff00"/>
<rect x="471.5" y="488.6" width="8.4" height="4.4" fill="#00ff19"/>
<rect x="479.5" y="488.6" width="4.4" height="4.4" fill="#00ff16"/>
<rect x="483.5" y="488.6" width="4.4" height="4.4" fill="#00ff12"/>
<rect x="487.5" y="488.6" width="4.4" height="4.4" fill="#00ff0f"/>
<rect x="491.5" y="488.6" width="4.4" height="4.4" fill="#00ff0b"/>
<rect x="495.5" y="488.6" width="4.4" height="4.4" fill="#00ff07"/>
<rect x="499.5" y="488.6" width="4.4" height="4.4" fill="#00ff02"/>
<rect x="503.5" y="488.6" width="48.4" height="4.4" fill="#00ff00"/>
<rect x="471.5" y="492.6" width="8.4" height="4.4" fill="#00ff1e"/>
<rect x="479.5" y="492.6" width="4.4" height="4.4" fill="#00ff1b"/>
<rect x="483.5" y="492.6" width="4.4" height="4.4" fill="#00ff17"/>
<rect x="487.5" y="492.6" width="4.4" height="4.4" fill="#00ff14"/>
<rect x="491.5" y="492.6" width="4.4" height="4.4" fill="#00ff10"/>
<rect x="495.5" y="492.6" width="4.4" height="4.4" fill="#00ff0c"/>
<rect x="499.5" y="492.6" width="4.4" height="4.4" fill="#00ff08"/>
<rect x="503.5" y="492.6" width="4.4" height="4.4" fill="#00ff03"/>
<rect x="507.5" y="492.6" width="48.4" height="4.4" fill="#00ff00"/>
<rect x="471.5" y="496.6" width="8.4" height="4.4" fill="#00ff23"/>
<rect x="479.5" y="496.6" width="4.4" height="4.4" fill="#00ff1f"/>
<rect x="483.5" y="496.6" width="4.4" height="4.4" fill="#00ff1c"/>
<rect x="487.5" y="496.6" width="4.4" height="4.4" fill="#00ff19"/>
<rect x="491.5" y="496.6" width="4.4" height="4.4" fill="#00ff15"/>
<rect x="495.5" y="496.6" width="4.4" height="4.4" fill="#00ff12"/>
<rect x="499.5" y="496.6" width="4.4" height="4.4" fill="#00ff0e"/>
<rect x="503.5" y="496.6" width="4.4" height="4.4" fill="#00ff09"/>
<rect x="507.5" y="496.6" width="4.4" height="4.4" fill="#00ff05"/>
<rect x="511.5" y="496.6" width="48.4" height="4.4" fill="#00ff00"/>
<rect x="471.5" y="500.6" width="4.4" height="4.4" fill="#00ff28"/>
<rect x="475.5" y="500.6" width="4.4" height="4.4" fill="#00ff27"/>
<rect x="479.5" y="500.6" width="4.4" height="4.4" fill="#00ff24"/>
<rect x="483.5" y="500.6" width="4.4" height="4.4" fill="#00ff21"/>
<rect x="487.5" y="500.6" width="4.4" height="4.4" fill="#00ff1e"/>
<rect x="491.5" y="500.6" width="4.4" height="4.4" fill="#00ff1a"/>
<rect x="495.5" y="500.6" width="4.4" height="4.4" fill="#00ff17"/>
<rect x="499.5" y="500.6" width="4.4" height="4.4" fill="#00ff13"/>
<rect x="503.5" y="500.6" width="4.4" height="4.4" fill="#00ff0f"/>
<rect x="507.5" y="500.6" width="4.4" height="4.4" fill="#00ff0b"/>
<rect x="511.5" y="500.6" width="4.4" height="4.4" fill="#00ff06"/>
<rect x="515.5" y="500.6" width="4.4" height="4.4" fill="#00ff01"/>
<rect x="519.5" y="500.6" width="44.4" height="4.4" fill="#00ff00"/>
<rect x="471.5" y="504.6" width="4.4" height="4.4" fill="#00ff2d"/>
<rect x="475.5" y="504.6" width="4.4" height="4.4" fill="#00ff2c"/>
<rect x="479.5" y="504.6" width="4.4" height="4.4" fill="#00ff29"/>
<rect x="483.5" y="504.6" width="4.4" height="4.4" fill="#00ff26"/>
<rect x="487.5" y="504.6" width="4.4" height="4.4" fill="#00ff23"/>
<rect x="491.5" y="504.6" width="4.4" height="4.4" fill="#00ff20"/>
<rect x="495.5" y="504.6" width="4.4" height="4.4" fill="#00ff1c"/>
<rect x="499.5" y="504.6" width="4.4" height="4.4" fill="#00ff19"/>
<rect x="503.5" y="504.6" width="4.4" height="4.4" fill="#00ff15"/>
<rect x="507.5" y="504.6" width="4.4" height="4.4" fill="#00ff11"/>
<rect x="511.5" y="504.6" width="4.4" height="4.4" fill="#00ff0c"/>
<rect x="515.5" y="504.6" width="4.4" height="4.4" fill="#00ff08"/>
<rect x="519.5" y="504.6" width="4.4" height="4.4" fill="#00ff02"/>
<rect x="523.5" y="504.6" width="36.4" height="4.4" fill="#00ff00"/>
<rect x="559.5" y="504.6" width="4.4" height="4.4" fill="#07ff00"/>
<rect x="563.5" y="504.6" width="4.4" height="4.4" fill="#1bff00"/>
<rect x="471.5" y="508.6" width="8.4" height="4.4" fill="#00ff32"/>
<rect x="479.5" y="508.6" width="4.4" height="4.4" fill="#00ff2f"/>
<rect x="483.5" y="508.6" width="4.4" height="4.4" fill="#00ff2c"/>
<rect x="487.5" y="508.6" width="4.4" height="4.4" fill="#00ff28"/>
<rect x="491.5" y="508.6" width="4.4" height="4.4" fill="#00ff25"/>
<rect x="495.5" y="508.6" width="4.4" height="4.4" fill="#00ff22"/>
<rect x="499.5" y="508.6" width="4.4" height="4.4" fill="#00ff1e"/>
<rect x="503.5" y="508.6" width="4.4" height="4.4" fill="#00ff1a"/>
<rect x="507.5" y="508.6" width="4.4" height="4.4" fill="#00ff16"/>
<rect x="511.5" y="508.6" width="4.4" height="4.4" fill="#00ff12"/>
<rect x="515.5" y="508.6" width="4.4" height="4.4" fill="#00ff0e"/>
<rect x="519.5" y="508.6" width="4.4" height="4.4" fill="#00ff09"/>
<rect x="523.5" y="508.6" width="4.4" height="4.4" fill="#00ff04"/>
<rect x="527.5" y="508.6" width="32.4" height="4.4" fill="#00ff00"/>
<rect x="559.5" y="508.6" width="4.4" height="4.4" fill="#0dff00"/>
<rect x="563.5" y="508.6" width="4.4" height="4.4" fill="#21ff00"/>
<rect x="567.5" y="508.6" width="4.4" height="4.4" fill="#34ff00"/>
<rect x="471.5" y="512.6" width="8.4" height="4.4" fill="#00ff37"/>
<rect x="479.5" y="512.6" width="4.4" height="4.4" fill="#00ff34"/>
<rect x="483.5" y="512.6" width="4.4" height="4.4" fill="#00ff31"/>
<rect x="487.5" y="512.6" width="4.4" height="4.4" fill="#00ff2e"/>
<rect x="491.5" y="512.6" width="4.4" height="4.4" fill="#00ff2b"/>
<rect x="495.5" y="512.6" width="4.4" height="4.4" fill="#00ff27"/>
<rect x="499.5" y="512.6" width="4.4" height="4.4" fill="#00ff24"/>
<rect x="503.5" y="512.6" width="4.4" height="4.4" fill="#00ff20"/>
<rect x="507.5" y="512.6" width="4.4" height="4.4" fill="#00ff1c"/>
<rect x="511.5" y="512.6" width="4.4" height="4.4" fill="#00ff18"/>
<rect x="515.5" y="512.6" width="4.4" height="4.4" fill="#00ff14"/>
<rect x="519.5" y="512.6" width="4.4" height="4.4" fill="#00ff10"/>
<rect x="523.5" y="512.6" width="4.4" height="4.4" fill="#00ff0b"/>
<rect x="527.5" y="512.6" width="4.4" height="4.4" fill="#00ff05"/>
<rect x="531.5" y="512.6" width="28.4" height="4.4" fill="#00ff00"/>
<rect x="559.5" y="512.6" width="4.4" height="4.4" fill="#13ff00"/>
<rect x="563.5" y="512.6" width="4.4" height="4.4" fill="#27ff00"/>
<rect x="567.5" y="512.6" width="4.4" height="4.4" fill="#3aff00"/>
<rect x="571.5" y="512.6" width="4.4" height="4.4" fill="#4dff00"/>
<rect x="471.5" y="516.6" width="4.4" height="4.4" fill="#00ff3d"/>
<rect x="475.5" y="516.6" width="4.4" height="4.4" fill="#00ff3c"/>
<rect x="479.5" y="516.6" width="4.4" height="4.4" fill="#00ff3a"/>
<rect x="483.5" y="516.6" width="4.4" height="4.4" fill="#00ff37"/>
<rect x="487.5" y="516.6" width="4.4" height="4.4" fill="#00ff34"/>
<rect x="491.5" y="516.6" width="4.4" height="4.4" fill="#00ff30"/>
<rect x="495.5" y="516.6" width="4.4" height="4.4" fill="#00ff2d"/>
<rect x="499.5" y="516.6" width="4.4" height="4.4" fill="#00ff2a"/>
<rect x="503.5" y="516.6" width="4.4" height="4.4" fill="#00ff26"/>
<rect x="507.5" y="516.6" width="4.4" height="4.4" fill="#00ff22"/>
<rect x="511.5" y="516.6" width="4.4" height="4.4" fill="#00ff1e"/>
<rect x="515.5" y="516.6" width="4.4" height="4.4" fill="#00ff1a"/>
<rect x="519.5" y="516.6" width="4.4" height="4.4" fill="#00ff16"/>
<rect x="523.5" y="516.6" width="4.4" height="4.4" fill="#00ff11"/>
<rect x="527.5" y="516.6" width="4.4" height="4.4" fill="#00ff0d"/>
<rect x="531.5" y="516.6" width="4.4" height="4.4" fill="#00ff07"/>
<rect x="535.5" y="516.6" width="4.4" height="4.4" fill="#00ff01"/>
<rect x="539.5" y="516.6" width="16.4" height="4.4" fill="#00ff00"/>
<rect x="555.5" y="516.6" width="4.4" height="4.4" fill="#03ff00"/>
<rect x="559.5" y="516.6" width="4.4" height="4.4" fill="#19ff00"/>
<rect x="563.5" y="516.6" width="4.4" height="4.4" fill="#2dff00"/>
<rect x="567.5" y="516.6" width="4.4" height="4.4" fill="#41ff00"/>
<rect x="571.5" y="516.6" width="4.4" height="4.4" fill="#54ff00"/>
<rect x="575.5" y="516.6" width="4.4" height="4.4" fill="#67ff00"/>
<rect x="471.5" y="520.6" width="8.4" height="4.4" fill="#00ff42"/>
<rect x="479.5" y="520.6" width="4.4" height="4.4" fill="#00ff3f"/>
<rect x="483.5" y="520.6" width="4.4" height="4.4" fill="#00ff3c"/>
<rect x="487.5" y="520.6" width="4.4" height="4.4" fill="#00ff39"/>
<rect x="491.5" y="520.6" width="4.4" height="4.4" fill="#00ff36"/>
<rect x="495.5" y="520.6" width="4.4" height="4.4" fill="#00ff33"/>
<rect x="499.5" y="520.6" width="4.4" height="4.4" fill="#00ff30"/>
<rect x="503.5" y="520.6" width="4.4" height="4.4" fill="#00ff2c"/>
<rect x="507.5" y="520.6" width="4.4" height="4.4" fill="#00ff28"/>
<rect x="511.5" y="520.6" width="4.4" height="4.4" fill="#00ff25"/>
<rect x="515.5" y="520.6" width="4.4" height="4.4" fill="#00ff21"/>
<rect x="519.5" y="520.6" width="4.4" height="4.4" fill="#00ff1c"/>
<rect x="523.5" y="520.6" width="4.4" height="4.4" fill="#00ff18"/>
<rect x="527.5" y="520.6" width="4.4" height="4.4" fill="#00ff13"/>
<rect x="531.5" y="520.6" width="4.4" height="4.4" fill="#00ff0e"/>
<rect x="535.5" y="520.6" width="4.4" height="4.4" fill="#00ff09"/>
<rect x="539.5" y="520.6" width="4.4" height="4.4" fill="#00ff03"/>
<rect x="543.5" y="520.6" width="12.4" height="4.4" fill="#00ff00"/>
<rect x="555.5" y="520.6" width="4.4" height="4.4" fill="#0aff00"/>
<rect x="559.5" y="520.6" width="4.4" height="4.4" fill="#20ff00"/>
<rect x="563.5" y="520.6" width="4.4" height="4.4" fill="#34ff00"/>
<rect x="567.5" y="520.6" width="4.4" height="4.4" fill="#48ff00"/>
<rect x="571.5" y="520.6" width="4.4" height="4.4" fill="#5cff00"/>
<rect x="575.5" y="520.6" width="4.4" height="4.4" fill="#6fff00"/>
<rect x="579.5" y="520.6" width="4.4" height="4.4" fill="#84ff00"/>
<rect x="471.5" y="524.6" width="8.4" height="4.4" fill="#00ff48"/>
<rect x="479.5" y="524.6" width="4.4" height="4.4" fill="#00ff45"/>
<rect x="483.5" y="524.6" width="4.4" height="4.4" fill="#00ff42"/>
<rect x="487.5" y="524.6" width="4.4" height="4.4" fill="#00ff3f"/>
<rect x="491.5" y="524.6" width="4.4" height="4.4" fill="#00ff3c"/>
<rect x="495.5" y="524.6" width="4.4" height="4.4" fill="#00ff39"/>
<rect x="499.5" y="524.6" width="4.4" height="4.4" fill="#00ff36"/>
<rect x="503.5" y="524.6" width="4.4" height="4.4" fill="#00ff32"/>
<rect x="507.5" y="524.6" width="4.4" height="4.4" fill="#00ff2f"/>
<rect x="511.5" y="524.6" width="4.4" height="4.4" fill="#00ff2b"/>
<rect x="515.5" y="524.6" width="4.4" height="4.4" fill="#00ff27"/>
<rect x="519.5" y="524.6" width="4.4" height="4.4" fill="#00ff23"/>
<rect x="523.5" y="524.6" width="4.4" height="4.4" fill="#00ff1f"/>
<rect x="527.5" y="524.6" width="4.4" height="4.4" fill="#00ff1a"/>
<rect x="531.5" y="524.6" width="4.4" height="4.4" fill="#00ff15"/>
<rect x="535.5" y="524.6" width="4.4" height="4.4" fill="#00ff10"/>
<rect x="539.5" y="524.6" width="4.4" height="4.4" fill="#00ff0b"/>
<rect x="543.5" y="524.6" width="4.4" height="4.4" fill="#00ff04"/>
<rect x="547.5" y="524.6" width="8.4" height="4.4" fill="#00ff00"/>
<rect x="555.5" y="524.6" width="4.4" height="4.4" fill="#11ff00"/>
<rect x="559.5" y="524.6" width="4.4" height="4.4" fill="#26ff00"/>
<rect x="563.5" y="524.6" width="4.4" height="4.4" fill="#3bff00"/>
<rect x="567.5" y="524.6" width="4.4" height="4.4" fill="#4fff00"/>
<rect x="571.5" y="524.6" width="4.4" height="4.4" fill="#64ff00"/>
<rect x="575.5" y="524.6" width="4.4" height="4.4" fill="#78ff00"/>
<rect x="579.5" y="524.6" width="4.4" height="4.4" fill="#8dff00"/>
<rect x="583.5" y="524.6" width="4.4" height="4.4" fill="#a2ff00"/>
<rect x="471.5" y="528.6" width="8.4" height="4.4" fill="#00ff4e"/>
<rect x="479.5" y="528.6" width="4.4" height="4.4" fill="#00ff4b"/>
<rect x="483.5" y="528.6" width="4.4" height="4.4" fill="#00ff48"/>
<rect x="487.5" y="528.6" width="4.4" height="4.4" fill="#00ff46"/>
<rect x="491.5" y="528.6" width="4.4" height="4.4" fill="#00ff43"/>
<rect x="495.5" y="528.6" width="4.4" height="4.4" fill="#00ff3f"/>
<rect x="499.5" y="528.6" width="4.4" height="4.4" fill="#00ff3c"/>
<rect x="503.5" y="528.6" width="4.4" height="4.4" fill="#00ff39"/>
<rect x="507.5" y="528.6" width="4.4" height="4.4" fill="#00ff35"/>
<rect x="511.5" y="528.6" width="4.4" height="4.4" fill="#00ff32"/>
<rect x="515.5" y="528.6" width="4.4" height="4.4" fill="#00ff2e"/>
<rect x="519.5" y="528.6" width="4.4" height="4.4" fill="#00ff2a"/>
<rect x="523.5" y="528.6" width="4.4" height="4.4" fill="#00ff26"/>
<rect x="527.5" y="528.6" width="4.4" height="4.4" fill="#00ff21"/>
<rect x="531.5" y="528.6" width="4.4" height="4.4" fill="#00ff1d"/>
<rect x="535.5" y="528.6" width="4.4" height="4.4" fill="#00ff18"/>
<rect x="539.5" y="528.6" width="4.4" height="4.4" fill="#00ff12"/>
<rect x="543.5" y="528.6" width="4.4" height="4.4" fill="#00ff0d"/>
<rect x="547.5" y="528.6" width="4.4" height="4.4" fill="#00ff06"/>
<rect x="551.5" y="528.6" width="4.4" height="4.4" fill="#00ff00"/>
<rect x="555.5" y="528.6" width="4.4" height="4.4" fill="#17ff00"/>
<rect x="559.5" y="528.6" width="4.4" height="4.4" fill="#2dff00"/>
<rect x="563.5" y="528.6" width="4.4" height="4.4" fill="#42ff00"/>
<rect x="567.5" y="528.6" width="4.4" height="4.4" fill="#57ff00"/>
<rect x="571.5" y="528.6" width="4.4" height="4.4" fill="#6cff00"/>
<rect x="575.5" y="528.6" width="4.4" height="4.4" fill="#81ff00"/>
<rect x="579.5" y="528.6" width="4.4" height="4.4" fill="#97ff00"/>
<rect x="583.5" y="528.6" width="4.4" height="4.4" fill="#adff00"/>
<rect x="587.5" y="528.6" width="4.4" height="4.4" fill="#c4ff00"/>
<rect x="471.5" y="532.6" width="4.4" height="4.4" fill="#00ff55"/>
<rect x="475.5" y="532.6" width="4.4" height="4.4" fill="#00ff54"/>
<rect x="479.5" y="532.6" width="4.4" height="4.4" fill="#00ff52"/>
<rect x="483.5" y="532.6" width="4.4" height="4.4" fill="#00ff4f"/>
<rect x="487.5" y="532.6" width="4.4" height="4.4" fill="#00ff4c"/>
<rect x="491.5" y="532.6" width="4.4" height="4.4" fill="#00ff49"/>
<rect x="495.5" y="532.6" width="4.4" height="4.4" fill="#00ff46"/>
<rect x="499.5" y="532.6" width="4.4" height="4.4" fill="#00ff43"/>
<rect x="503.5" y="532.6" width="4.4" height="4.4" fill="#00ff40"/>
<rect x="507.5" y="532.6" width="4.4" height="4.4" fill="#00ff3c"/>
<rect x="511.5" y="532.6" width="4.4" height="4.4" fill="#00ff39"/>
<rect x="515.5" y="532.6" width="4.4" height="4.4" fill="#00ff35"/>
<rect x="519.5" y="532.6" width="4.4" height="4.4" fill="#00ff31"/>
<rect x="523.5" y="532.6" width="4.4" height="4.4" fill="#00ff2d"/>
<rect x="527.5" y="532.6" width="4.4" height="4.4" fill="#00ff29"/>
<rect x="531.5" y="532.6" width="4.4" height="4.4" fill="#00ff24"/>
<rect x="535.5" y="532.6" width="4.4" height="4.4" fill="#00ff1f"/>
<rect x="539.5" y="532.6" width="4.4" height="4.4" fill="#00ff1a"/>
<rect x="543.5" y="532.6" width="4.4" height="4.4" fill="#00ff15"/>
<rect x="547.5" y="532.6" width="4.4" height="4.4" fill="#00ff0f"/>
<rect x="551.5" y="532.6" width="4.4" height="4.4" fill="#06ff08"/>
<rect x="555.5" y="532.6" width="4.4" height="4.4" fill="#1eff01"/>
<rect x="559.5" y="532.6" width="4.4" height="4.4" fill="#34ff00"/>
<rect x="563.5" y="532.6" width="4.4" height="4.4" fill="#4aff00"/>
<rect x="567.5" y="532.6" width="4.4" height="4.4" fill="#5fff00"/>
<rect x="571.5" y="532.6" width="4.4" height="4.4" fill="#75ff00"/>
<rect x="575.5" y="532.6" width="4.4" height="4.4" fill="#8bff00"/>
<rect x="579.5" y="532.6" width="4.4" height="4.4" fill="#a2ff00"/>
<rect x="583.5" y="532.6" width="4.4" height="4.4" fill="#b9ff00"/>
<rect x="587.5" y="532.6" width="4.4" height="4.4" fill="#d0ff00"/>
<rect x="591.5" y="532.6" width="4.4" height="4.4" fill="#e8ff00"/>
<rect x="471.5" y="536.6" width="8.4" height="4.4" fill="#00ff5b"/>
<rect x="479.5" y="536.6" width="4.4" height="4.4" fill="#00ff58"/>
<rect x="483.5" y="536.6" width="4.4" height="4.4" fill="#00ff56"/>
<rect x="487.5" y="536.6" width="4.4" height="4.4" fill="#00ff53"/>
<rect x="491.5" y="536.6" width="4.4" height="4.4" fill="#00ff50"/>
<rect x="495.5" y="536.6" width="4.4" height="4.4" fill="#00ff4d"/>
<rect x="499.5" y="536.6" width="4.4" height="4.4" fill="#00ff4a"/>
<rect x="503.5" y="536.6" width="4.4" height="4.4" fill="#00ff47"/>
<rect x="507.5" y="536.6" width="4.4" height="4.4" fill="#00ff43"/>
<rect x="511.5" y="536.6" width="4.4" height="4.4" fill="#00ff40"/>
<rect x="515.5" y="536.6" width="4.4" height="4.4" fill="#00ff3c"/>
<rect x="519.5" y="536.6" width="4.4" height="4.4" fill="#00ff38"/>
<rect x="523.5" y="536.6" width="4.4" height="4.4" fill="#00ff34"/>
<rect x="527.5" y="536.6" width="4.4" height="4.4" fill="#00ff30"/>
<rect x="531.5" y="536.6" width="4.4" height="4.4" fill="#00ff2c"/>
<rect x="535.5" y="536.6" width="4.4" height="4.4" fill="#00ff27"/>
<rect x="539.5" y="536.6" width="4.4" height="4.4" fill="#00ff22"/>
<rect x="543.5" y="536.6" width="4.4" height="4.4" fill="#00ff1d"/>
<rect x="547.5" y="536.6" width="4.4" height="4.4" fill="#00ff17"/>
<rect x="551.5" y="536.6" width="4.4" height="4.4" fill="#0dff11"/>
<rect x="555.5" y="536.6" width="4.4" height="4.4" fill="#25ff0b"/>
<rect x="559.5" y="536.6" width="4.4" height="4.4" fill="#3cff03"/>
<rect x="563.5" y="536.6" width="4.4" height="4.4" fill="#52ff00"/>
<rect x="567.5" y="536.6" width="4.4" height="4.4" fill="#68ff00"/>
<rect x="571.5" y="536.6" width="4.4" height="4.4" fill="#7fff00"/>
<rect x="575.5" y="536.6" width="4.4" height="4.4" fill="#96ff00"/>
<rect x="579.5" y="536.6" width="4.4" height="4.4" fill="#adff00"/>
<rect x="583.5" y="536.6" width="4.4" height="4.4" fill="#c5ff00"/>
<rect x="587.5" y="536.6" width="4.4" height="4.4" fill="#deff00"/>
<rect x="591.5" y="536.6" width="4.4" height="4.4" fill="#f7ff00"/>
<rect x="595.5" y="536.6" width="4.4" height="4.4" fill="#ffee00"/>
<rect x="471.5" y="540.6" width="8.4" height="4.4" fill="#00ff62"/>
<rect x="479.5" y="540.6" width="4.4" height="4.4" fill="#00ff5f"/>
<rect x="483.5" y="540.6" width="4.4" height="4.4" fill="#00ff5d"/>
<rect x="487.5" y="540.6" width="4.4" height="4.4" fill="#00ff5a"/>
<rect x="491.5" y="540.6" width="4.4" height="4.4" fill="#00ff57"/>
<rect x="495.5" y="540.6" width="4.4" height="4.4" fill="#00ff54"/>
<rect x="499.5" y="540.6" width="4.4" height="4.4" fill="#00ff51"/>
<rect x="503.5" y="540.6" width="4.4" height="4.4" fill="#00ff4e"/>
<rect x="507.5" y="540.6" width="4.4" height="4.4" fill="#00ff4a"/>
<rect x="511.5" y="540.6" width="4.4" height="4.4" fill="#00ff47"/>
<rect x="515.5" y="540.6" width="4.4" height="4.4" fill="#00ff43"/>
<rect x="519.5" y="540.6" width="4.4" height="4.4" fill="#00ff40"/>
<rect x="523.5" y="540.6" width="4.4" height="4.4" fill="#00ff3c"/>
<rect x="527.5" y="540.6" width="4.4" height="4.4" fill="#00ff38"/>
<rect x="531.5" y="540.6" width="4.4" height="4.4" fill="#00ff33"/>
<rect x="535.5" y="540.6" width="4.4" height="4.4" fill="#00ff2f"/>
<rect x="539.5" y="540.6" width="4.4" height="4.4" fill="#00ff2a"/>
<rect x="543.5" y="540.6" width="4.4" height="4.4" fill="#00ff25"/>
<rect x="547.5" y="540.6" width="4.4" height="4.4" fill="#00ff20"/>
<rect x="551.5" y="540.6" width="4.4" height="4.4" fill="#15ff1a"/>
<rect x="555.5" y="540.6" width="4.4" height="4.4" fill="#2dff14"/>
<rect x="559.5" y="540.6" width="4.4" height="4.4" fill="#44ff0d"/>
<rect x="563.5" y="540.6" width="4.4" height="4.4" fill="#5bff05"/>
<rect x="567.5" y="540.6" width="4.4" height="4.4" fill="#72ff00"/>
<rect x="571.5" y="540.6" width="4.4" height="4.4" fill="#89ff00"/>
<rect x="575.5" y="540.6" width="4.4" height="4.4" fill="#a1ff00"/>
<rect x="579.5" y="540.6" width="4.4" height="4.4" fill="#b9ff00"/>
<rect x="583.5" y="540.6" width="4.4" height="4.4" fill="#d2ff00"/>
<rect x="587.5" y="540.6" width="4.4" height="4.4" fill="#ecff00"/>
<rect x="591.5" y="540.6" width="4.4" height="4.4" fill="#fff700"/>
<rect x="595.5" y="540.6" width="4.4" height="4.4" fill="#ffe000"/>
<rect x="599.5" y="540.6" width="4.4" height="4.4" fill="#ffcb00"/>
<rect x="471.5" y="544.6" width="8.4" height="4.4" fill="#00ff69"/>
<rect x="479.5" y="544.6" width="4.4" height="4.4" fill="#00ff66"/>
<rect x="483.5" y="544.6" width="4.4" height="4.4" fill="#00ff64"/>
<rect x="487.5" y="544.6" width="4.4" height="4.4" fill="#00ff61"/>
<rect x="491.5" y="544.6" width="4.4" height="4.4" fill="#00ff5e"/>
<rect x="495.5" y="544.6" width="4.4" height="4.4" fill="#00ff5b"/>
<rect x="499.5" y="544.6" width="4.4" height="4.4" fill="#00ff59"/>
<rect x="503.5" y="544.6" width="4.4" height="4.4" fill="#00ff55"/>
<rect x="507.5" y="544.6" width="4.4" height="4.4" fill="#00ff52"/>
<rect x="511.5" y="544.6" width="4.4" height="4.4" fill="#00ff4f"/>
<rect x="515.5" y="544.6" width="4.4" height="4.4" fill="#00ff4b"/>
<rect x="519.5" y="544.6" width="4.4" height="4.4" fill="#00ff48"/>
<rect x="523.5" y="544.6" width="4.4" height="4.4" fill="#00ff44"/>
<rect x="527.5" y="544.6" width="4.4" height="4.4" fill="#00ff40"/>
<rect x="531.5" y="544.6" width="4.4" height="4.4" fill="#00ff3c"/>
<rect x="535.5" y="544.6" width="4.4" height="4.4" fill="#00ff37"/>
<rect x="539.5" y="544.6" width="4.4" height="4.4" fill="#00ff33"/>
<rect x="543.5" y="544.6" width="4.4" height="4.4" fill="#00ff2e"/>
<rect x="547.5" y="544.6" width="4.4" height="4.4" fill="#00ff29"/>
<rect x="551.5" y="544.6" width="4.4" height="4.4" fill="#1cff23"/>
<rect x="555.5" y="544.6" width="4.4" height="4.4" fill="#35ff1d"/>
<rect x="559.5" y="544.6" width="4.4" height="4.4" fill="#4cff17"/>
<rect x="563.5" y="544.6" width="4.4" height="4.4" fill="#64ff10"/>
<rect x="567.5" y="544.6" width="4.4" height="4.4" fill="#7cff08"/>
<rect x="571.5" y="544.6" width="4.4" height="4.4" fill="#94ff00"/>
<rect x="575.5" y="544.6" width="4.4" height="4.4" fill="#adff00"/>
<rect x="579.5" y="544.6" width="4.4" height="4.4" fill="#c6ff00"/>
<rect x="583.5" y="544.6" width="4.4" height="4.4" fill="#e1ff00"/>
<rect x="587.5" y="544.6" width="4.4" height="4.4" fill="#fcff00"/>
<rect x="591.5" y="544.6" width="4.4" height="4.4" fill="#ffe800"/>
<rect x="595.5" y="544.6" width="4.4" height="4.4" fill="#ffd200"/>
<rect x="599.5" y="544.6" width="4.4" height="4.4" fill="#ffbf00"/>
<rect x="603.5" y="544.6" width="4.4" height="4.4" fill="#ffaf00"/>
<rect x="471.5" y="548.6" width="4.4" height="4.4" fill="#00ff71"/>
<rect x="475.5" y="548.6" width="4.4" height="4.4" fill="#00ff70"/>
<rect x="479.5" y="548.6" width="4.4" height="4.4" fill="#00ff6e"/>
<rect x="483.5" y="548.6" width="4.4" height="4.4" fill="#00ff6b"/>
<rect x="487.5" y="548.6" width="4.4" height="4.4" fill="#00ff69"/>
<rect x="491.5" y="548.6" width="4.4" height="4.4" fill="#00ff66"/>
<rect x="495.5" y="548.6" width="4.4" height="4.4" fill="#00ff63"/>
<rect x="499.5" y="548.6" width="4.4" height="4.4" fill="#00ff60"/>
<rect x="503.5" y="548.6" width="4.4" height="4.4" fill="#00ff5d"/>
<rect x="507.5" y="548.6" width="4.4" height="4.4" fill="#00ff5a"/>
<rect x="511.5" y="548.6" width="4.4" height="4.4" fill="#00ff57"/>
<rect x="515.5" y="548.6" width="4.4" height="4.4" fill="#00ff54"/>
<rect x="519.5" y="548.6" width="4.4" height="4.4" fill="#00ff50"/>
<rect x="523.5" y="548.6" width="4.4" height="4.4" fill="#00ff4c"/>
<rect x="527.5" y="548.6" width="4.4" height="4.4" fill="#00ff48"/>
<rect x="531.5" y="548.6" width="4.4" height="4.4" fill="#00ff44"/>
<rect x="535.5" y="548.6" width="4.4" height="4.4" fill="#00ff40"/>
<rect x="539.5" y="548.6" width="4.4" height="4.4" fill="#00ff3c"/>
<rect x="543.5" y="548.6" width="4.4" height="4.4" fill="#00ff37"/>
<rect x="547.5" y="548.6" width="4.4" height="4.4" fill="#0aff32"/>
<rect x="551.5" y="548.6" width="4.4" height="4.4" fill="#24ff2c"/>
<rect x="555.5" y="548.6" width="4.4" height="4.4" fill="#3dff27"/>
<rect x="559.5" y="548.6" width="4.4" height="4.4" fill="#55ff21"/>
<rect x="563.5" y="548.6" width="4.4" height="4.4" fill="#6eff1a"/>
<rect x="567.5" y="548.6" width="4.4" height="4.4" fill="#87ff13"/>
<rect x="571.5" y="548.6" width="4.4" height="4.4" fill="#a0ff0b"/>
<rect x="575.5" y="548.6" width="4.4" height="4.4" fill="#baff01"/>
<rect x="579.5" y="548.6" width="4.4" height="4.4" fill="#d5ff00"/>
<rect x="583.5" y="548.6" width="4.4" height="4.4" fill="#f1ff00"/>
<rect x="587.5" y="548.6" width="4.4" height="4.4" fill="#fff100"/>
<rect x="591.5" y="548.6" width="4.4" height="4.4" fill="#ffd900"/>
<rect x="595.5" y="548.6" width="4.4" height="4.4" fill="#ffc500"/>
<rect x="599.5" y="548.6" width="4.4" height="4.4" fill="#ffb300"/>
<rect x="603.5" y="548.6" width="4.4" height="4.4" fill="#ffa400"/>
<rect x="607.5" y="548.6" width="4.4" height="4.4" fill="#ff9600"/>
<rect x="471.5" y="552.6" width="8.4" height="4.4" fill="#00ff78"/>
<rect x="479.5" y="552.6" width="4.4" height="4.4" fill="#00ff76"/>
<rect x="483.5" y="552.6" width="4.4" height="4.4" fill="#00ff73"/>
<rect x="487.5" y="552.6" width="4.4" height="4.4" fill="#00ff71"/>
<rect x="491.5" y="552.6" width="4.4" height="4.4" fill="#00ff6e"/>
<rect x="495.5" y="552.6" width="4.4" height="4.4" fill="#00ff6c"/>
<rect x="499.5" y="552.6" width="4.4" height="4.4" fill="#00ff69"/>
<rect x="503.5" y="552.6" width="4.4" height="4.4" fill="#00ff66"/>
<rect x="507.5" y="552.6" width="4.4" height="4.4" fill="#00ff63"/>
<rect x="511.5" y="552.6" width="4.4" height="4.4" fill="#00ff60"/>
<rect x="515.5" y="552.6" width="4.4" height="4.4" fill="#00ff5c"/>
<rect x="519.5" y="552.6" width="4.4" height="4.4" fill="#00ff59"/>
<rect x="523.5" y="552.6" width="4.4" height="4.4" fill="#00ff55"/>
<rect x="527.5" y="552.6" width="4.4" height="4.4" fill="#00ff51"/>
<rect x="531.5" y="552.6" width="4.4" height="4.4" fill="#00ff4d"/>
<rect x="535.5" y="552.6" width="4.4" height="4.4" fill="#00ff49"/>
<rect x="539.5" y="552.6" width="4.4" height="4.4" fill="#00ff45"/>
<rect x="543.5" y="552.6" width="4.4" height="4.4" fill="#00ff40"/>
<rect x="547.5" y="552.6" width="4.4" height="4.4" fill="#12ff3b"/>
<rect x="551.5" y="552.6" width="4.4" height="4.4" fill="#2dff36"/>
<rect x="555.5" y="552.6" width="4.4" height="4.4" fill="#46ff31"/>
<rect x="559.5" y="552.6" width="4.4" height="4.4" fill="#5fff2b"/>
<rect x="563.5" y="552.6" width="4.4" height="4.4" fill="#79ff24"/>
<rect x="567.5" y="552.6" width="4.4" height="4.4" fill="#92ff1d"/>
<rect x="571.5" y="552.6" width="4.4" height="4.4" fill="#adff16"/>
<rect x="575.5" y="552.6" width="4.4" height="4.4" fill="#c8ff0e"/>
<rect x="579.5" y="552.6" width="4.4" height="4.4" fill="#e4ff04"/>
<rect x="583.5" y="552.6" width="4.4" height="4.4" fill="#fffc00"/>
<rect x="587.5" y="552.6" width="4.4" height="4.4" fill="#ffe200"/>
<rect x="591.5" y="552.6" width="4.4" height="4.4" fill="#ffcb00"/>
<rect x="595.5" y="552.6" width="4.4" height="4.4" fill="#ffb800"/>
<rect x="599.5" y="552.6" width="4.4" height="4.4" fill="#ffa700"/>
<rect x="603.5" y="552.6" width="4.4" height="4.4" fill="#ff9900"/>
<rect x="607.5" y="552.6" width="4.4" height="4.4" fill="#ff8c00"/>
<rect x="611.5" y="552.6" width="4.4" height="4.4" fill="#ff8100"/>
<rect x="471.5" y="556.6" width="4.4" height="4.4" fill="#00ff81"/>
<rect x="475.5" y="556.6" width="4.4" height="4.4" fill="#00ff80"/>
<rect x="479.5" y="556.6" width="4.4" height="4.4" fill="#00ff7e"/>
<rect x="483.5" y="556.6" width="4.4" height="4.4" fill="#00ff7c"/>
<rect x="487.5" y="556.6" width="4.4" height="4.4" fill="#00ff79"/>
<rect x="491.5" y="556.6" width="4.4" height="4.4" fill="#00ff77"/>
<rect x="495.5" y="556.6" width="4.4" height="4.4" fill="#00ff74"/>
<rect x="499.5" y="556.6" width="4.4" height="4.4" fill="#00ff72"/>
<rect x="503.5" y="556.6" width="4.4" height="4.4" fill="#00ff6f"/>
<rect x="507.5" y="556.6" width="4.4" height="4.4" fill="#00ff6c"/>
<rect x="511.5" y="556.6" width="4.4" height="4.4" fill="#00ff69"/>
<rect x="515.5" y="556.6" width="4.4" height="4.4" fill="#00ff65"/>
<rect x="519.5" y="556.6" width="4.4" height="4.4" fill="#00ff62"/>
<rect x="523.5" y="556.6" width="4.4" height="4.4" fill="#00ff5f"/>
<rect x="527.5" y="556.6" width="4.4" height="4.4" fill="#00ff5b"/>
<rect x="531.5" y="556.6" width="4.4" height="4.4" fill="#00ff57"/>
<rect x="535.5" y="556.6" width="4.4" height="4.4" fill="#00ff53"/>
<rect x="539.5" y="556.6" width="4.4" height="4.4" fill="#00ff4f"/>
<rect x="543.5" y="556.6" width="4.4" height="4.4" fill="#00ff4a"/>
<rect x="547.5" y="556.6" width="4.4" height="4.4" fill="#1aff46"/>
<rect x="551.5" y="556.6" width="4.4" height="4.4" fill="#35ff40"/>
<rect x="555.5" y="556.6" width="4.4" height="4.4" fill="#4fff3b"/>
<rect x="559.5" y="556.6" width="4.4" height="4.4" fill="#6aff35"/>
<rect x="563.5" y="556.6" width="4.4" height="4.4" fill="#84ff2f"/>
<rect x="567.5" y="556.6" width="4.4" height="4.4" fill="#9fff29"/>
<rect x="571.5" y="556.6" width="4.4" height="4.4" fill="#bbff22"/>
<rect x="575.5" y="556.6" width="4.4" height="4.4" fill="#d8ff1a"/>
<rect x="579.5" y="556.6" width="4.4" height="4.4" fill="#f6ff11"/>
<rect x="583.5" y="556.6" width="4.4" height="4.4" fill="#ffeb06"/>
<rect x="587.5" y="556.6" width="4.4" height="4.4" fill="#ffd200"/>
<rect x="591.5" y="556.6" width="4.4" height="4.4" fill="#ffbe00"/>
<rect x="595.5" y="556.6" width="4.4" height="4.4" fill="#ffac00"/>
<rect x="599.5" y="556.6" width="4.4" height="4.4" fill="#ff9c00"/>
<rect x="603.5" y="556.6" width="4.4" height="4.4" fill="#ff8f00"/>
<rect x="607.5" y="556.6" width="4.4" height="4.4" fill="#ff8300"/>
<rect x="611.5" y="556.6" width="4.4" height="4.4" fill="#ff7800"/>
<rect x="615.5" y="556.6" width="4.4" height="4.4" fill="#ff6e00"/>
<rect x="471.5" y="560.6" width="8.4" height="4.4" fill="#00ff89"/>
<rect x="479.5" y="560.6" width="4.4" height="4.4" fill="#00ff87"/>
<rect x="483.5" y="560.6" width="4.4" height="4.4" fill="#00ff85"/>
<rect x="487.5" y="560.6" width="4.4" height="4.4" fill="#00ff82"/>
<rect x="491.5" y="560.6" width="4.4" height="4.4" fill="#00ff80"/>
<rect x="495.5" y="560.6" width="4.4" height="4.4" fill="#00ff7d"/>
<rect x="499.5" y="560.6" width="4.4" height="4.4" fill="#00ff7b"/>
<rect x="503.5" y="560.6" width="4.4" height="4.4" fill="#00ff78"/>
<rect x="507.5" y="560.6" width="4.4" height="4.4" fill="#00ff75"/>
<rect x="511.5" y="560.6" width="4.4" height="4.4" fill="#00ff72"/>
<rect x="515.5" y="560.6" width="4.4" height="4.4" fill="#00ff6f"/>
<rect x="519.5" y="560.6" width="4.4" height="4.4" fill="#00ff6c"/>
<rect x="523.5" y="560.6" width="4.4" height="4.4" fill="#00ff69"/>
<rect x="527.5" y="560.6" width="4.4" height="4.4" fill="#00ff65"/>
<rect x="531.5" y="560.6" width="4.4" height="4.4" fill="#00ff61"/>
<rect x="535.5" y="560.6" width="4.4" height="4.4" fill="#00ff5d"/>
<rect x="539.5" y="560.6" width="4.4" height="4.4" fill="#00ff59"/>
<rect x="543.5" y="560.6" width="4.4" height="4.4" fill="#05ff55"/>
<rect x="547.5" y="560.6" width="4.4" height="4.4" fill="#23ff50"/>
<rect x="551.5" y="560.6" width="4.4" height="4.4" fill="#3fff4b"/>
<rect x="555.5" y="560.6" width="4.4" height="4.4" fill="#5aff46"/>
<rect x="559.5" y="560.6" width="4.4" height="4.4" fill="#75ff41"/>
<rect x="563.5" y="560.6" width="4.4" height="4.4" fill="#91ff3b"/>
<rect x="567.5" y="560.6" width="4.4" height="4.4" fill="#adff34"/>
<rect x="571.5" y="560.6" width="4.4" height="4.4" fill="#caff2e"/>
<rect x="575.5" y="560.6" width="4.4" height="4.4" fill="#e9ff26"/>
<rect x="579.5" y="560.6" width="4.4" height="4.4" fill="#fff61d"/>
<rect x="583.5" y="560.6" width="4.4" height="4.4" fill="#ffdb12"/>
<rect x="587.5" y="560.6" width="4.4" height="4.4" fill="#ffc408"/>
<rect x="591.5" y="560.6" width="4.4" height="4.4" fill="#ffb000"/>
<rect x="595.5" y="560.6" width="4.4" height="4.4" fill="#ffa000"/>
<rect x="599.5" y="560.6" width="4.4" height="4.4" fill="#ff9100"/>
<rect x="603.5" y="560.6" width="4.4" height="4.4" fill="#ff8500"/>
<rect x="607.5" y="560.6" width="4.4" height="4.4" fill="#ff7900"/>
<rect x="611.5" y="560.6" width="4.4" height="4.4" fill="#ff6f00"/>
<rect x="615.5" y="560.6" width="4.4" height="4.4" fill="#ff6600"/>
<rect x="619.5" y="560.6" width="4.4" height="4.4" fill="#ff5e00"/>
<rect x="471.5" y="564.6" width="8.4" height="4.4" fill="#00ff92"/>
<rect x="479.5" y="564.6" width="4.4" height="4.4" fill="#00ff90"/>
<rect x="483.5" y="564.6" width="4.4" height="4.4" fill="#00ff8e"/>
<rect x="487.5" y="564.6" width="4.4" height="4.4" fill="#00ff8c"/>
<rect x="491.5" y="564.6" width="4.4" height="4.4" fill="#00ff89"/>
<rect x="495.5" y="564.6" width="4.4" height="4.4" fill="#00ff87"/>
<rect x="499.5" y="564.6" width="4.4" height="4.4" fill="#00ff85"/>
<rect x="503.5" y="564.6" width="4.4" height="4.4" fill="#00ff82"/>
<rect x="507.5" y="564.6" width="4.4" height="4.4" fill="#00ff7f"/>
<rect x="511.5" y="564.6" width="4.4" height="4.4" fill="#00ff7c"/>
<rect x="515.5" y="564.6" width="4.4" height="4.4" fill="#00ff7a"/>
<rect x="519.5" y="564.6" width="4.4" height="4.4" fill="#00ff76"/>
<rect x="523.5" y="564.6" width="4.4" height="4.4" fill="#00ff73"/>
<rect x="527.5" y="564.6" width="4.4" height="4.4" fill="#00ff70"/>
<rect x="531.5" y="564.6" width="4.4" height="4.4" fill="#00ff6c"/>
<rect x="535.5" y="564.6" width="4.4" height="4.4" fill="#00ff69"/>
<rect x="539.5" y="564.6" width="4.4" height="4.4" fill="#00ff65"/>
<rect x="543.5" y="564.6" width="4.4" height="4.4" fill="#0eff60"/>
<rect x="547.5" y="564.6" width="4.4" height="4.4" fill="#2cff5c"/>
<rect x="551.5" y="564.6" width="4.4" height="4.4" fill="#48ff57"/>
<rect x="555.5" y="564.6" width="4.4" height="4.4" fill="#65ff52"/>
<rect x="559.5" y="564.6" width="4.4" height="4.4" fill="#81ff4d"/>
<rect x="563.5" y="564.6" width="4.4" height="4.4" fill="#9eff47"/>
<rect x="567.5" y="564.6" width="4.4" height="4.4" fill="#bcff41"/>
<rect x="571.5" y="564.6" width="4.4" height="4.4" fill="#dbff3a"/>
<rect x="575.5" y="564.6" width="4.4" height="4.4" fill="#fbff33"/>
<rect x="579.5" y="564.6" width="4.4" height="4.4" fill="#ffe427"/>
<rect x="583.5" y="564.6" width="4.4" height="4.4" fill="#ffcb1c"/>
<rect x="587.5" y="564.6" width="4.4" height="4.4" fill="#ffb612"/>
<rect x="591.5" y="564.6" width="4.4" height="4.4" fill="#ffa409"/>
<rect x="595.5" y="564.6" width="4.4" height="4.4" fill="#ff9400"/>
<rect x="599.5" y="564.6" width="4.4" height="4.4" fill="#ff8700"/>
<rect x="603.5" y="564.6" width="4.4" height="4.4" fill="#ff7b00"/>
<rect x="607.5" y="564.6" width="4.4" height="4.4" fill="#ff7000"/>
<rect x="611.5" y="564.6" width="4.4" height="4.4" fill="#ff6600"/>
<rect x="615.5" y="564.6" width="4.4" height="4.4" fill="#ff5e00"/>
<rect x="619.5" y="564.6" width="4.4" height="4.4" fill="#ff5600"/>
<rect x="623.5" y="564.6" width="4.4" height="4.4" fill="#ff4f00"/>
<rect x="471.5" y="568.6" width="8.4" height="4.4" fill="#00ff9c"/>
<rect x="479.5" y="568.6" width="4.4" height="4.4" fill="#00ff9a"/>
<rect x="483.5" y="568.6" width="4.4" height="4.4" fill="#00ff98"/>
<rect x="487.5" y="568.6" width="4.4" height="4.4" fill="#00ff96"/>
<rect x="491.5" y="568.6" width="4.4" height="4.4" fill="#00ff93"/>
<rect x="495.5" y="568.6" width="4.4" height="4.4" fill="#00ff91"/>
<rect x="499.5" y="568.6" width="4.4" height="4.4" fill="#00ff8f"/>
<rect x="503.5" y="568.6" width="4.4" height="4.4" fill="#00ff8d"/>
<rect x="507.5" y="568.6" width="4.4" height="4.4" fill="#00ff8a"/>
<rect x="511.5" y="568.6" width="4.4" height="4.4" fill="#00ff87"/>
<rect x="515.5" y="568.6" width="4.4" height="4.4" fill="#00ff85"/>
<rect x="519.5" y="568.6" width="4.4" height="4.4" fill="#00ff82"/>
<rect x="523.5" y="568.6" width="4.4" height="4.4" fill="#00ff7f"/>
<rect x="527.5" y="568.6" width="4.4" height="4.4" fill="#00ff7b"/>
<rect x="531.5" y="568.6" width="4.4" height="4.4" fill="#00ff78"/>
<rect x="535.5" y="568.6" width="4.4" height="4.4" fill="#00ff74"/>
<rect x="539.5" y="568.6" width="4.4" height="4.4" fill="#00ff71"/>
<rect x="543.5" y="568.6" width="4.4" height="4.4" fill="#18ff6d"/>
<rect x="547.5" y="568.6" width="4.4" height="4.4" fill="#36ff68"/>
<rect x="551.5" y="568.6" width="4.4" height="4.4" fill="#53ff64"/>
<rect x="555.5" y="568.6" width="4.4" height="4.4" fill="#70ff5f"/>
<rect x="559.5" y="568.6" width="4.4" height="4.4" fill="#8eff5a"/>
<rect x="563.5" y="568.6" width="4.4" height="4.4" fill="#adff55"/>
<rect x="567.5" y="568.6" width="4.4" height="4.4" fill="#cdff4f"/>
<rect x="571.5" y="568.6" width="4.4" height="4.4" fill="#eeff48"/>
<rect x="575.5" y="568.6" width="4.4" height="4.4" fill="#ffef3d"/>
<rect x="579.5" y="568.6" width="4.4" height="4.4" fill="#ffd330"/>
<rect x="583.5" y="568.6" width="4.4" height="4.4" fill="#ffbc25"/>
<rect x="587.5" y="568.6" width="4.4" height="4.4" fill="#ffa81b"/>
<rect x="591.5" y="568.6" width="4.4" height="4.4" fill="#ff9712"/>
<rect x="595.5" y="568.6" width="4.4" height="4.4" fill="#ff890a"/>
<rect x="599.5" y="568.6" width="4.4" height="4.4" fill="#ff7c03"/>
<rect x="603.5" y="568.6" width="4.4" height="4.4" fill="#ff7100"/>
<rect x="607.5" y="568.6" width="4.4" height="4.4" fill="#ff6700"/>
<rect x="611.5" y="568.6" width="4.4" height="4.4" fill="#ff5e00"/>
<rect x="615.5" y="568.6" width="4.4" height="4.4" fill="#ff5600"/>
<rect x="619.5" y="568.6" width="4.4" height="4.4" fill="#ff4e00"/>
<rect x="623.5" y="568.6" width="4.4" height="4.4" fill="#ff4800"/>
<rect x="627.5" y="568.6" width="4.4" height="4.4" fill="#ff4100"/>
<rect x="475.5" y="572.6" width="4.4" height="4.4" fill="#00ffa6"/>
<rect x="479.5" y="572.6" width="4.4" height="4.4" fill="#00ffa4"/>
<rect x="483.5" y="572.6" width="4.4" height="4.4" fill="#00ffa2"/>
<rect x="487.5" y="572.6" width="4.4" height="4.4" fill="#00ffa0"/>
<rect x="491.5" y="572.6" width="4.4" height="4.4" fill="#00ff9e"/>
<rect x="495.5" y="572.6" width="4.4" height="4.4" fill="#00ff9c"/>
<rect x="499.5" y="572.6" width="4.4" height="4.4" fill="#00ff9a"/>
<rect x="503.5" y="572.6" width="4.4" height="4.4" fill="#00ff98"/>
<rect x="507.5" y="572.6" width="4.4" height="4.4" fill="#00ff95"/>
<rect x="511.5" y="572.6" width="4.4" height="4.4" fill="#00ff93"/>
<rect x="515.5" y="572.6" width="4.4" height="4.4" fill="#00ff90"/>
<rect x="519.5" y="572.6" width="4.4" height="4.4" fill="#00ff8e"/>
<rect x="523.5" y="572.6" width="4.4" height="4.4" fill="#00ff8b"/>
<rect x="527.5" y="572.6" width="4.4" height="4.4" fill="#00ff88"/>
<rect x="531.5" y="572.6" width="4.4" height="4.4" fill="#00ff85"/>
<rect x="535.5" y="572.6" width="4.4" height="4.4" fill="#00ff81"/>
<rect x="539.5" y="572.6" width="4.4" height="4.4" fill="#00ff7e"/>
<rect x="543.5" y="572.6" width="4.4" height="4.4" fill="#21ff7a"/>
<rect x="547.5" y="572.6" width="4.4" height="4.4" fill="#40ff76"/>
<rect x="551.5" y="572.6" width="4.4" height="4.4" fill="#5fff72"/>
<rect x="555.5" y="572.6" width="4.4" height="4.4" fill="#7dff6d"/>
<rect x="559.5" y="572.6" width="4.4" height="4.4" fill="#9dff68"/>
<rect x="563.5" y="572.6" width="4.4" height="4.4" fill="#bdff63"/>
<rect x="567.5" y="572.6" width="4.4" height="4.4" fill="#dfff5d"/>
<rect x="571.5" y="572.6" width="4.4" height="4.4" fill="#fffc56"/>
<rect x="575.5" y="572.6" width="4.4" height="4.4" fill="#ffdc46"/>
<rect x="579.5" y="572.6" width="4.4" height="4.4" fill="#ffc338"/>
<rect x="583.5" y="572.6" width="4.4" height="4.4" fill="#ffad2d"/>
<rect x="587.5" y="572.6" width="4.4" height="4.4" fill="#ff9b23"/>
<rect x="591.5" y="572.6" width="4.4" height="4.4" fill="#ff8c1a"/>
<rect x="595.5" y="572.6" width="4.4" height="4.4" fill="#ff7e12"/>
<rect x="599.5" y="572.6" width="4.4" height="4.4" fill="#ff720b"/>
<rect x="603.5" y="572.6" width="4.4" height="4.4" fill="#ff6804"/>
<rect x="607.5" y="572.6" width="4.4" height="4.4" fill="#ff5e00"/>
<rect x="611.5" y="572.6" width="4.4" height="4.4" fill="#ff5600"/>
<rect x="615.5" y="572.6" width="4.4" height="4.4" fill="#ff4e00"/>
<rect x="619.5" y="572.6" width="4.4" height="4.4" fill="#ff4700"/>
<rect x="623.5" y="572.6" width="4.4" height="4.4" fill="#ff4000"/>
<rect x="627.5" y="572.6" width="4.4" height="4.4" fill="#ff3b00"/>
<rect x="631.5" y="572.6" width="4.4" height="4.4" fill="#ff3500"/>
<rect x="475.5" y="576.6" width="4.4" height="4.4" fill="#00ffb0"/>
<rect x="479.5" y="576.6" width="4.4" height="4.4" fill="#00ffaf"/>
<rect x="483.5" y="576.6" width="4.4" height="4.4" fill="#00ffad"/>
<rect x="487.5" y="576.6" width="4.4" height="4.4" fill="#00ffab"/>
<rect x="491.5" y="576.6" width="4.4" height="4.4" fill="#00ffaa"/>
<rect x="495.5" y="576.6" width="4.4" height="4.4" fill="#00ffa8"/>
<rect x="499.5" y="576.6" width="4.4" height="4.4" fill="#00ffa6"/>
<rect x="503.5" y="576.6" width="4.4" height="4.4" fill="#00ffa4"/>
<rect x="507.5" y="576.6" width="4.4" height="4.4" fill="#00ffa2"/>
<rect x="511.5" y="576.6" width="4.4" height="4.4" fill="#00ff9f"/>
<rect x="515.5" y="576.6" width="4.4" height="4.4" fill="#00ff9d"/>
<rect x="519.5" y="576.6" width="4.4" height="4.4" fill="#00ff9b"/>
<rect x="523.5" y="576.6" width="4.4" height="4.4" fill="#00ff98"/>
<rect x="527.5" y="576.6" width="4.4" height="4.4" fill="#00ff95"/>
<rect x="531.5" y="576.6" width="4.4" height="4.4" fill="#00ff92"/>
<rect x="535.5" y="576.6" width="4.4" height="4.4" fill="#00ff8f"/>
<rect x="539.5" y="576.6" width="4.4" height="4.4" fill="#09ff8c"/>
<rect x="543.5" y="576.6" width="4.4" height="4.4" fill="#2cff88"/>
<rect x="547.5" y="576.6" width="4.4" height="4.4" fill="#4cff85"/>
<rect x="551.5" y="576.6" width="4.4" height="4.4" fill="#6bff81"/>
<rect x="555.5" y="576.6" width="4.4" height="4.4" fill="#8cff7c"/>
<rect x="559.5" y="576.6" width="4.4" height="4.4" fill="#adff78"/>
<rect x="563.5" y="576.6" width="4.4" height="4.4" fill="#cfff73"/>
<rect x="567.5" y="576.6" width="4.4" height="4.4" fill="#f3ff6e"/>
<rect x="571.5" y="576.6" width="4.4" height="4.4" fill="#ffe75e"/>
<rect x="575.5" y="576.6" width="4.4" height="4.4" fill="#ffca4e"/>
<rect x="579.5" y="576.6" width="4.4" height="4.4" fill="#ffb340"/>
<rect x="583.5" y="576.6" width="4.4" height="4.4" fill="#ff9f34"/>
<rect x="587.5" y="576.6" width="4.4" height="4.4" fill="#ff8f2a"/>
<rect x="591.5" y="576.6" width="4.4" height="4.4" fill="#ff8021"/>
<rect x="595.5" y="576.6" width="4.4" height="4.4" fill="#ff731a"/>
<rect x="599.5" y="576.6" width="4.4" height="4.4" fill="#ff6812"/>
<rect x="603.5" y="576.6" width="4.4" height="4.4" fill="#ff5e0c"/>
<rect x="607.5" y="576.6" width="4.4" height="4.4" fill="#ff5605"/>
<rect x="611.5" y="576.6" width="4.4" height="4.4" fill="#ff4e00"/>
<rect x="615.5" y="576.6" width="4.4" height="4.4" fill="#ff4600"/>
<rect x="619.5" y="576.6" width="4.4" height="4.4" fill="#ff4000"/>
<rect x="623.5" y="576.6" width="4.4" height="4.4" fill="#ff3900"/>
<rect x="627.5" y="576.6" width="4.4" height="4.4" fill="#ff3400"/>
<rect x="631.5" y="576.6" width="4.4" height="4.4" fill="#ff2f00"/>
<rect x="635.5" y="576.6" width="4.4" height="4.4" fill="#ff2a00"/>
<rect x="475.5" y="580.6" width="4.4" height="4.4" fill="#00ffbc"/>
<rect x="479.5" y="580.6" width="4.4" height="4.4" fill="#00ffba"/>
<rect x="483.5" y="580.6" width="4.4" height="4.4" fill="#00ffb9"/>
<rect x="487.5" y="580.6" width="4.4" height="4.4" fill="#00ffb7"/>
<rect x="491.5" y="580.6" width="4.4" height="4.4" fill="#00ffb6"/>
<rect x="495.5" y="580.6" width="4.4" height="4.4" fill="#00ffb4"/>
<rect x="499.5" y="580.6" width="4.4" height="4.4" fill="#00ffb3"/>
<rect x="503.5" y="580.6" width="4.4" height="4.4" fill="#00ffb1"/>
<rect x="507.5" y="580.6" width="4.4" height="4.4" fill="#00ffaf"/>
<rect x="511.5" y="580.6" width="4.4" height="4.4" fill="#00ffad"/>
<rect x="515.5" y="580.6" width="4.4" height="4.4" fill="#00ffab"/>
<rect x="519.5" y="580.6" width="4.4" height="4.4" fill="#00ffa8"/>
<rect x="523.5" y="580.6" width="4.4" height="4.4" fill="#00ffa6"/>
<rect x="527.5" y="580.6" width="4.4" height="4.4" fill="#00ffa4"/>
<rect x="531.5" y="580.6" width="4.4" height="4.4" fill="#00ffa1"/>
<rect x="535.5" y="580.6" width="4.4" height="4.4" fill="#00ff9e"/>
<rect x="539.5" y="580.6" width="4.4" height="4.4" fill="#14ff9b"/>
<rect x="543.5" y="580.6" width="4.4" height="4.4" fill="#37ff98"/>
<rect x="547.5" y="580.6" width="4.4" height="4.4" fill="#58ff95"/>
<rect x="551.5" y="580.6" width="4.4" height="4.4" fill="#79ff91"/>
<rect x="555.5" y="580.6" width="4.4" height="4.4" fill="#9bff8d"/>
<rect x="559.5" y="580.6" width="4.4" height="4.4" fill="#bfff89"/>
<rect x="563.5" y="580.6" width="4.4" height="4.4" fill="#e4ff85"/>
<rect x="567.5" y="580.6" width="4.4" height="4.4" fill="#fff47a"/>
<rect x="571.5" y="580.6" width="4.4" height="4.4" fill="#ffd466"/>
<rect x="575.5" y="580.6" width="4.4" height="4.4" fill="#ffb955"/>
<rect x="579.5" y="580.6" width="4.4" height="4.4" fill="#ffa447"/>
<rect x="583.5" y="580.6" width="4.4" height="4.4" fill="#ff923b"/>
<rect x="587.5" y="580.6" width="4.4" height="4.4" fill="#ff8231"/>
<rect x="591.5" y="580.6" width="4.4" height="4.4" fill="#ff7528"/>
<rect x="595.5" y="580.6" width="4.4" height="4.4" fill="#ff6920"/>
<rect x="599.5" y="580.6" width="4.4" height="4.4" fill="#ff5f19"/>
<rect x="603.5" y="580.6" width="4.4" height="4.4" fill="#ff5513"/>
<rect x="607.5" y="580.6" width="4.4" height="4.4" fill="#ff4d0c"/>
<rect x="611.5" y="580.6" width="4.4" height="4.4" fill="#ff4607"/>
<rect x="615.5" y="580.6" width="4.4" height="4.4" fill="#ff3f00"/>
<rect x="619.5" y="580.6" width="4.4" height="4.4" fill="#ff3800"/>
<rect x="623.5" y="580.6" width="4.4" height="4.4" fill="#ff3200"/>
<rect x="627.5" y="580.6" width="4.4" height="4.4" fill="#ff2d00"/>
<rect x="631.5" y="580.6" width="4.4" height="4.4" fill="#ff2800"/>
<rect x="635.5" y="580.6" width="4.4" height="4.4" fill="#ff2300"/>
<rect x="639.5" y="580.6" width="4.4" height="4.4" fill="#ff1f00"/>
<rect x="475.5" y="584.6" width="4.4" height="4.4" fill="#00ffc8"/>
<rect x="479.5" y="584.6" width="4.4" height="4.4" fill="#00ffc7"/>
<rect x="483.5" y="584.6" width="4.4" height="4.4" fill="#00ffc6"/>
<rect x="487.5" y="584.6" width="4.4" height="4.4" fill="#00ffc4"/>
<rect x="491.5" y="584.6" width="4.4" height="4.4" fill="#00ffc3"/>
<rect x="495.5" y="584.6" width="4.4" height="4.4" fill="#00ffc2"/>
<rect x="499.5" y="584.6" width="4.4" height="4.4" fill="#00ffc0"/>
<rect x="503.5" y="584.6" width="4.4" height="4.4" fill="#00ffbf"/>
<rect x="507.5" y="584.6" width="4.4" height="4.4" fill="#00ffbd"/>
<rect x="511.5" y="584.6" width="4.4" height="4.4" fill="#00ffbb"/>
<rect x="515.5" y="584.6" width="4.4" height="4.4" fill="#00ffb9"/>
<rect x="519.5" y="584.6" width="4.4" height="4.4" fill="#00ffb8"/>
<rect x="523.5" y="584.6" width="4.4" height="4.4" fill="#00ffb6"/>
<rect x="527.5" y="584.6" width="4.4" height="4.4" fill="#00ffb3"/>
<rect x="531.5" y="584.6" width="4.4" height="4.4" fill="#00ffb1"/>
<rect x="535.5" y="584.6" width="4.4" height="4.4" fill="#00ffaf"/>
<rect x="539.5" y="584.6" width="4.4" height="4.4" fill="#1fffac"/>
<rect x="543.5" y="584.6" width="4.4" height="4.4" fill="#43ffaa"/>
<rect x="547.5" y="584.6" width="4.4" height="4.4" fill="#65ffa7"/>
<rect x="551.5" y="584.6" width="4.4" height="4.4" fill="#89ffa3"/>
<rect x="555.5" y="584.6" width="4.4" height="4.4" fill="#adffa0"/>
<rect x="559.5" y="584.6" width="4.4" height="4.4" fill="#d3ff9c"/>
<rect x="563.5" y="584.6" width="4.4" height="4.4" fill="#faff99"/>
<rect x="567.5" y="584.6" width="4.4" height="4.4" fill="#ffde81"/>
<rect x="571.5" y="584.6" width="4.4" height="4.4" fill="#ffc16d"/>
<rect x="575.5" y="584.6" width="4.4" height="4.4" fill="#ffa95c"/>
<rect x="579.5" y="584.6" width="4.4" height="4.4" fill="#ff954e"/>
<rect x="583.5" y="584.6" width="4.4" height="4.4" fill="#ff8542"/>
<rect x="587.5" y="584.6" width="4.4" height="4.4" fill="#ff7638"/>
<rect x="591.5" y="584.6" width="4.4" height="4.4" fill="#ff6a2f"/>
<rect x="595.5" y="584.6" width="4.4" height="4.4" fill="#ff5f27"/>
<rect x="599.5" y="584.6" width="4.4" height="4.4" fill="#ff551f"/>
<rect x="603.5" y="584.6" width="4.4" height="4.4" fill="#ff4d19"/>
<rect x="607.5" y="584.6" width="4.4" height="4.4" fill="#ff4513"/>
<rect x="611.5" y="584.6" width="4.4" height="4.4" fill="#ff3e0d"/>
<rect x="615.5" y="584.6" width="4.4" height="4.4" fill="#ff3707"/>
<rect x="619.5" y="584.6" width="4.4" height="4.4" fill="#ff3102"/>
<rect x="623.5" y="584.6" width="4.4" height="4.4" fill="#ff2c00"/>
<rect x="627.5" y="584.6" width="4.4" height="4.4" fill="#ff2600"/>
<rect x="631.5" y="584.6" width="4.4" height="4.4" fill="#ff2200"/>
<rect x="635.5" y="584.6" width="4.4" height="4.4" fill="#ff1d00"/>
<rect x="639.5" y="584.6" width="4.4" height="4.4" fill="#ff1900"/>
<rect x="643.5" y="584.6" width="4.4" height="4.4" fill="#ff1500"/>
<rect x="475.5" y="588.6" width="4.4" height="4.4" fill="#00ffd5"/>
<rect x="479.5" y="588.6" width="4.4" height="4.4" fill="#00ffd4"/>
<rect x="483.5" y="588.6" width="4.4" height="4.4" fill="#00ffd3"/>
<rect x="487.5" y="588.6" width="4.4" height="4.4" fill="#00ffd2"/>
<rect x="491.5" y="588.6" width="4.4" height="4.4" fill="#00ffd1"/>
<rect x="495.5" y="588.6" width="4.4" height="4.4" fill="#00ffd0"/>
<rect x="499.5" y="588.6" width="4.4" height="4.4" fill="#00ffcf"/>
<rect x="503.5" y="588.6" width="4.4" height="4.4" fill="#00ffce"/>
<rect x="507.5" y="588.6" width="4.4" height="4.4" fill="#00ffcc"/>
<rect x="511.5" y="588.6" width="4.4" height="4.4" fill="#00ffcb"/>
<rect x="515.5" y="588.6" width="4.4" height="4.4" fill="#00ffca"/>
<rect x="519.5" y="588.6" width="4.4" height="4.4" fill="#00ffc8"/>
<rect x="523.5" y="588.6" width="4.4" height="4.4" fill="#00ffc6"/>
<rect x="527.5" y="588.6" width="4.4" height="4.4" fill="#00ffc5"/>
<rect x="531.5" y="588.6" width="4.4" height="4.4" fill="#00ffc3"/>
<rect x="535.5" y="588.6" width="4.4" height="4.4" fill="#02ffc1"/>
<rect x="539.5" y="588.6" width="4.4" height="4.4" fill="#2bffbf"/>
<rect x="543.5" y="588.6" width="4.4" height="4.4" fill="#50ffbd"/>
<rect x="547.5" y="588.6" width="4.4" height="4.4" fill="#74ffba"/>
<rect x="551.5" y="588.6" width="4.4" height="4.4" fill="#9affb8"/>
<rect x="555.5" y="588.6" width="4.4" height="4.4" fill="#c1ffb5"/>
<rect x="559.5" y="588.6" width="4.4" height="4.4" fill="#e9ffb2"/>
<rect x="563.5" y="588.6" width="4.4" height="4.4" fill="#ffeba1"/>
<rect x="567.5" y="588.6" width="4.4" height="4.4" fill="#ffca88"/>
<rect x="571.5" y="588.6" width="4.4" height="4.4" fill="#ffaf73"/>
<rect x="575.5" y="588.6" width="4.4" height="4.4" fill="#ff9a62"/>
<rect x="579.5" y="588.6" width="4.4" height="4.4" fill="#ff8854"/>
<rect x="583.5" y="588.6" width="4.4" height="4.4" fill="#ff7848"/>
<rect x="587.5" y="588.6" width="4.4" height="4.4" fill="#ff6b3e"/>
<rect x="591.5" y="588.6" width="4.4" height="4.4" fill="#ff5f35"/>
<rect x="595.5" y="588.6" width="4.4" height="4.4" fill="#ff552c"/>
<rect x="599.5" y="588.6" width="4.4" height="4.4" fill="#ff4c25"/>
<rect x="603.5" y="588.6" width="4.4" height="4.4" fill="#ff441e"/>
<rect x="607.5" y="588.6" width="4.4" height="4.4" fill="#ff3c18"/>
<rect x="611.5" y="588.6" width="4.4" height="4.4" fill="#ff3613"/>
<rect x="615.5" y="588.6" width="4.4" height="4.4" fill="#ff300d"/>
<rect x="619.5" y="588.6" width="4.4" height="4.4" fill="#ff2a08"/>
<rect x="623.5" y="588.6" width="4.4" height="4.4" fill="#ff2503"/>
<rect x="627.5" y="588.6" width="4.4" height="4.4" fill="#ff2000"/>
<rect x="631.5" y="588.6" width="4.4" height="4.4" fill="#ff1b00"/>
<rect x="635.5" y="588.6" width="4.4" height="4.4" fill="#ff1700"/>
<rect x="639.5" y="588.6" width="4.4" height="4.4" fill="#ff1300"/>
<rect x="643.5" y="588.6" width="4.4" height="4.4" fill="#ff0f00"/>
<rect x="647.5" y="588.6" width="4.4" height="4.4" fill="#ff0b00"/>
<rect x="475.5" y="592.6" width="4.4" height="4.4" fill="#00ffe3"/>
<rect x="479.5" y="592.6" width="8.4" height="4.4" fill="#00ffe2"/>
<rect x="487.5" y="592.6" width="4.4" height="4.4" fill="#00ffe1"/>
<rect x="491.5" y="592.6" width="8.4" height="4.4" fill="#00ffe0"/>
<rect x="499.5" y="592.6" width="4.4" height="4.4" fill="#00ffdf"/>
<rect x="503.5" y="592.6" width="4.4" height="4.4" fill="#00ffde"/>
<rect x="507.5" y="592.6" width="4.4" height="4.4" fill="#00ffdd"/>
<rect x="511.5" y="592.6" width="4.4" height="4.4" fill="#00ffdc"/>
<rect x="515.5" y="592.6" width="4.4" height="4.4" fill="#00ffdb"/>
<rect x="519.5" y="592.6" width="4.4" height="4.4" fill="#00ffda"/>
<rect x="523.5" y="592.6" width="4.4" height="4.4" fill="#00ffd9"/>
<rect x="527.5" y="592.6" width="4.4" height="4.4" fill="#00ffd8"/>
<rect x="531.5" y="592.6" width="4.4" height="4.4" fill="#00ffd7"/>
<rect x="535.5" y="592.6" width="4.4" height="4.4" fill="#10ffd5"/>
<rect x="539.5" y="592.6" width="4.4" height="4.4" fill="#38ffd4"/>
<rect x="543.5" y="592.6" width="4.4" height="4.4" fill="#5effd2"/>
<rect x="547.5" y="592.6" width="4.4" height="4.4" fill="#85ffd1"/>
<rect x="551.5" y="592.6" width="4.4" height="4.4" fill="#adffcf"/>
<rect x="555.5" y="592.6" width="4.4" height="4.4" fill="#d7ffcd"/>
<rect x="559.5" y="592.6" width="4.4" height="4.4" fill="#fffbc7"/>
<rect x="563.5" y="592.6" width="4.4" height="4.4" fill="#ffd5a7"/>
<rect x="567.5" y="592.6" width="4.4" height="4.4" fill="#ffb78e"/>
<rect x="571.5" y="592.6" width="4.4" height="4.4" fill="#ff9e79"/>
<rect x="575.5" y="592.6" width="4.4" height="4.4" fill="#ff8b68"/>
<rect x="579.5" y="592.6" width="4.4" height="4.4" fill="#ff7a5a"/>
<rect x="583.5" y="592.6" width="4.4" height="4.4" fill="#ff6c4e"/>
<rect x="587.5" y="592.6" width="4.4" height="4.4" fill="#ff6043"/>
<rect x="591.5" y="592.6" width="4.4" height="4.4" fill="#ff553a"/>
<rect x="595.5" y="592.6" width="4.4" height="4.4" fill="#ff4b32"/>
<rect x="599.5" y="592.6" width="4.4" height="4.4" fill="#ff432b"/>
<rect x="603.5" y="592.6" width="4.4" height="4.4" fill="#ff3b24"/>
<rect x="607.5" y="592.6" width="4.4" height="4.4" fill="#ff341e"/>
<rect x="611.5" y="592.6" width="4.4" height="4.4" fill="#ff2e18"/>
<rect x="615.5" y="592.6" width="4.4" height="4.4" fill="#ff2813"/>
<rect x="619.5" y="592.6" width="4.4" height="4.4" fill="#ff230e"/>
<rect x="623.5" y="592.6" width="4.4" height="4.4" fill="#ff1e09"/>
<rect x="627.5" y="592.6" width="4.4" height="4.4" fill="#ff1904"/>
<rect x="631.5" y="592.6" width="4.4" height="4.4" fill="#ff1400"/>
<rect x="635.5" y="592.6" width="4.4" height="4.4" fill="#ff1000"/>
<rect x="639.5" y="592.6" width="4.4" height="4.4" fill="#ff0c00"/>
<rect x="643.5" y="592.6" width="4.4" height="4.4" fill="#ff0800"/>
<rect x="647.5" y="592.6" width="4.4" height="4.4" fill="#ff0400"/>
<rect x="651.5" y="592.6" width="4.4" height="4.4" fill="#ff0000"/>
<rect x="479.5" y="596.6" width="4.4" height="4.4" fill="#00fff2"/>
<rect x="483.5" y="596.6" width="12.4" height="4.4" fill="#00fff1"/>
<rect x="495.5" y="596.6" width="12.4" height="4.4" fill="#00fff0"/>
<rect x="507.5" y="596.6" width="8.4" height="4.4" fill="#00ffef"/>
<rect x="515.5" y="596.6" width="8.4" height="4.4" fill="#00ffee"/>
<rect x="523.5" y="596.6" width="8.4" height="4.4" fill="#00ffed"/>
<rect x="531.5" y="596.6" width="4.4" height="4.4" fill="#00ffec"/>
<rect x="535.5" y="596.6" width="4.4" height="4.4" fill="#1cffec"/>
<rect x="539.5" y="596.6" width="4.4" height="4.4" fill="#46ffeb"/>
<rect x="543.5" y="596.6" width="4.4" height="4.4" fill="#6effea"/>
<rect x="547.5" y="596.6" width="4.4" height="4.4" fill="#98ffea"/>
<rect x="551.5" y="596.6" width="4.4" height="4.4" fill="#c3ffe9"/>
<rect x="555.5" y="596.6" width="4.4" height="4.4" fill="#f0ffe8"/>
<rect x="559.5" y="596.6" width="4.4" height="4.4" fill="#ffe1cc"/>
<rect x="563.5" y="596.6" width="4.4" height="4.4" fill="#ffbfac"/>
<rect x="567.5" y="596.6" width="4.4" height="4.4" fill="#ffa493"/>
<rect x="571.5" y="596.6" width="4.4" height="4.4" fill="#ff8e7f"/>
<rect x="575.5" y="596.6" width="4.4" height="4.4" fill="#ff7c6e"/>
<rect x="579.5" y="596.6" width="4.4" height="4.4" fill="#ff6d60"/>
<rect x="583.5" y="596.6" width="4.4" height="4.4" fill="#ff6053"/>
<rect x="587.5" y="596.6" width="4.4" height="4.4" fill="#ff5549"/>
<rect x="591.5" y="596.6" width="4.4" height="4.4" fill="#ff4b40"/>
<rect x="595.5" y="596.6" width="4.4" height="4.4" fill="#ff4237"/>
<rect x="599.5" y="596.6" width="4.4" height="4.4" fill="#ff3a30"/>
<rect x="603.5" y="596.6" width="4.4" height="4.4" fill="#ff3329"/>
<rect x="607.5" y="596.6" width="4.4" height="4.4" fill="#ff2c23"/>
<rect x="611.5" y="596.6" width="4.4" height="4.4" fill="#ff261d"/>
<rect x="615.5" y="596.6" width="4.4" height="4.4" fill="#ff2118"/>
<rect x="619.5" y="596.6" width="4.4" height="4.4" fill="#ff1b13"/>
<rect x="623.5" y="596.6" width="4.4" height="4.4" fill="#ff170e"/>
<rect x="627.5" y="596.6" width="4.4" height="4.4" fill="#ff120a"/>
<rect x="631.5" y="596.6" width="4.4" height="4.4" fill="#ff0e05"/>
<rect x="635.5" y="596.6" width="4.4" height="4.4" fill="#ff0900"/>
<rect x="639.5" y="596.6" width="4.4" height="4.4" fill="#ff0500"/>
<rect x="643.5" y="596.6" width="4.4" height="4.4" fill="#ff0100"/>
<rect x="647.5" y="596.6" width="12.4" height="4.4" fill="#ff0000"/>
<rect x="479.5" y="600.6" width="12.4" height="4.4" fill="#00fcff"/>
<rect x="491.5" y="600.6" width="24.4" height="4.4" fill="#00fbff"/>
<rect x="515.5" y="600.6" width="16.4" height="4.4" fill="#00faff"/>
<rect x="531.5" y="600.6" width="4.4" height="4.4" fill="#00f9ff"/>
<rect x="535.5" y="600.6" width="4.4" height="4.4" fill="#29f9ff"/>
<rect x="539.5" y="600.6" width="4.4" height="4.4" fill="#53f9ff"/>
<rect x="543.5" y="600.6" width="4.4" height="4.4" fill="#7df9ff"/>
<rect x="547.5" y="600.6" width="4.4" height="4.4" fill="#a8f8ff"/>
<rect x="551.5" y="600.6" width="4.4" height="4.4" fill="#d6f8ff"/>
<rect x="555.5" y="600.6" width="4.4" height="4.4" fill="#fff1f9"/>
<rect x="559.5" y="600.6" width="4.4" height="4.4" fill="#ffc9d0"/>
<rect x="563.5" y="600.6" width="4.4" height="4.4" fill="#ffabb1"/>
<rect x="567.5" y="600.6" width="4.4" height="4.4" fill="#ff9398"/>
<rect x="571.5" y="600.6" width="4.4" height="4.4" fill="#ff7f84"/>
<rect x="575.5" y="600.6" width="4.4" height="4.4" fill="#ff6e73"/>
<rect x="579.5" y="600.6" width="4.4" height="4.4" fill="#ff6065"/>
<rect x="583.5" y="600.6" width="4.4" height="4.4" fill="#ff5459"/>
<rect x="587.5" y="600.6" width="4.4" height="4.4" fill="#ff4a4e"/>
<rect x="591.5" y="600.6" width="4.4" height="4.4" fill="#ff4145"/>
<rect x="595.5" y="600.6" width="4.4" height="4.4" fill="#ff383c"/>
<rect x="599.5" y="600.6" width="4.4" height="4.4" fill="#ff3135"/>
<rect x="603.5" y="600.6" width="4.4" height="4.4" fill="#ff2a2e"/>
<rect x="607.5" y="600.6" width="4.4" height="4.4" fill="#ff2428"/>
<rect x="611.5" y="600.6" width="4.4" height="4.4" fill="#ff1e22"/>
<rect x="615.5" y="600.6" width="4.4" height="4.4" fill="#ff191c"/>
<rect x="619.5" y="600.6" width="4.4" height="4.4" fill="#ff1418"/>
<rect x="623.5" y="600.6" width="4.4" height="4.4" fill="#ff0f13"/>
<rect x="627.5" y="600.6" width="4.4" height="4.4" fill="#ff0b0e"/>
<rect x="631.5" y="600.6" width="4.4" height="4.4" fill="#ff060a"/>
<rect x="635.5" y="600.6" width="4.4" height="4.4" fill="#ff0206"/>
<rect x="639.5" y="600.6" width="4.4" height="4.4" fill="#ff0001"/>
<rect x="643.5" y="600.6" width="20.4" height="4.4" fill="#ff0000"/>
<rect x="479.5" y="604.6" width="4.4" height="4.4" fill="#00ecff"/>
<rect x="483.5" y="604.6" width="4.4" height="4.4" fill="#00ebff"/>
<rect x="487.5" y="604.6" width="8.4" height="4.4" fill="#00eaff"/>
<rect x="495.5" y="604.6" width="8.4" height="4.4" fill="#00e9ff"/>
<rect x="503.5" y="604.6" width="4.4" height="4.4" fill="#00e8ff"/>
<rect x="507.5" y="604.6" width="4.4" height="4.4" fill="#00e7ff"/>
<rect x="511.5" y="604.6" width="8.4" height="4.4" fill="#00e6ff"/>
<rect x="519.5" y="604.6" width="4.4" height="4.4" fill="#00e5ff"/>
<rect x="523.5" y="604.6" width="4.4" height="4.4" fill="#00e4ff"/>
<rect x="527.5" y="604.6" width="4.4" height="4.4" fill="#00e3ff"/>
<rect x="531.5" y="604.6" width="4.4" height="4.4" fill="#08e2ff"/>
<rect x="535.5" y="604.6" width="4.4" height="4.4" fill="#32e0ff"/>
<rect x="539.5" y="604.6" width="4.4" height="4.4" fill="#5adfff"/>
<rect x="543.5" y="604.6" width="4.4" height="4.4" fill="#82deff"/>
<rect x="547.5" y="604.6" width="4.4" height="4.4" fill="#abdcff"/>
<rect x="551.5" y="604.6" width="4.4" height="4.4" fill="#d6dbff"/>
<rect x="555.5" y="604.6" width="4.4" height="4.4" fill="#ffd6fb"/>
<rect x="559.5" y="604.6" width="4.4" height="4.4" fill="#ffb3d4"/>
<rect x="563.5" y="604.6" width="4.4" height="4.4" fill="#ff97b5"/>
<rect x="567.5" y="604.6" width="4.4" height="4.4" fill="#ff829d"/>
<rect x="571.5" y="604.6" width="4.4" height="4.4" fill="#ff7089"/>
<rect x="575.5" y="604.6" width="4.4" height="4.4" fill="#ff6178"/>
<rect x="579.5" y="604.6" width="4.4" height="4.4" fill="#ff546a"/>
<rect x="583.5" y="604.6" width="4.4" height="4.4" fill="#ff495e"/>
<rect x="587.5" y="604.6" width="4.4" height="4.4" fill="#ff3f53"/>
<rect x="591.5" y="604.6" width="4.4" height="4.4" fill="#ff3749"/>
<rect x="595.5" y="604.6" width="4.4" height="4.4" fill="#ff2f41"/>
<rect x="599.5" y="604.6" width="4.4" height="4.4" fill="#ff2839"/>
<rect x="603.5" y="604.6" width="4.4" height="4.4" fill="#ff2232"/>
<rect x="607.5" y="604.6" width="4.4" height="4.4" fill="#ff1c2c"/>
<rect x="611.5" y="604.6" width="4.4" height="4.4" fill="#ff1626"/>
<rect x="615.5" y="604.6" width="4.4" height="4.4" fill="#ff1121"/>
<rect x="619.5" y="604.6" width="4.4" height="4.4" fill="#ff0c1c"/>
<rect x="623.5" y="604.6" width="4.4" height="4.4" fill="#ff0817"/>
<rect x="627.5" y="604.6" width="4.4" height="4.4" fill="#ff0313"/>
<rect x="631.5" y="604.6" width="4.4" height="4.4" fill="#ff000f"/>
<rect x="635.5" y="604.6" width="4.4" height="4.4" fill="#ff000b"/>
<rect x="639.5" y="604.6" width="4.4" height="4.4" fill="#ff0007"/>
<rect x="643.5" y="604.6" width="4.4" height="4.4" fill="#ff0003"/>
<rect x="647.5" y="604.6" width="20.4" height="4.4" fill="#ff0000"/>
<rect x="479.5" y="608.6" width="4.4" height="4.4" fill="#00dcff"/>
<rect x="483.5" y="608.6" width="4.4" height="4.4" fill="#00dbff"/>
<rect x="487.5" y="608.6" width="4.4" height="4.4" fill="#00daff"/>
<rect x="491.5" y="608.6" width="4.4" height="4.4" fill="#00d9ff"/>
<rect x="495.5" y="608.6" width="4.4" height="4.4" fill="#00d8ff"/>
<rect x="499.5" y="608.6" width="4.4" height="4.4" fill="#00d7ff"/>
<rect x="503.5" y="608.6" width="4.4" height="4.4" fill="#00d6ff"/>
<rect x="507.5" y="608.6" width="4.4" height="4.4" fill="#00d5ff"/>
<rect x="511.5" y="608.6" width="4.4" height="4.4" fill="#00d3ff"/>
<rect x="515.5" y="608.6" width="4.4" height="4.4" fill="#00d2ff"/>
<rect x="519.5" y="608.6" width="4.4" height="4.4" fill="#00d0ff"/>
<rect x="523.5" y="608.6" width="4.4" height="4.4" fill="#00cfff"/>
<rect x="527.5" y="608.6" width="4.4" height="4.4" fill="#00cdff"/>
<rect x="531.5" y="608.6" width="4.4" height="4.4" fill="#13cbff"/>
<rect x="535.5" y="608.6" width="4.4" height="4.4" fill="#3acaff"/>
<rect x="539.5" y="608.6" width="4.4" height="4.4" fill="#60c8ff"/>
<rect x="543.5" y="608.6" width="4.4" height="4.4" fill="#86c5ff"/>
<rect x="547.5" y="608.6" width="4.4" height="4.4" fill="#adc3ff"/>
<rect x="551.5" y="608.6" width="4.4" height="4.4" fill="#d6c0ff"/>
<rect x="555.5" y="608.6" width="4.4" height="4.4" fill="#ffbcfd"/>
<rect x="559.5" y="608.6" width="4.4" height="4.4" fill="#ff9dd7"/>
<rect x="563.5" y="608.6" width="4.4" height="4.4" fill="#ff85b9"/>
<rect x="567.5" y="608.6" width="4.4" height="4.4" fill="#ff72a1"/>
<rect x="571.5" y="608.6" width="4.4" height="4.4" fill="#ff618e"/>
<rect x="575.5" y="608.6" width="4.4" height="4.4" fill="#ff547d"/>
<rect x="579.5" y="608.6" width="4.4" height="4.4" fill="#ff486f"/>
<rect x="583.5" y="608.6" width="4.4" height="4.4" fill="#ff3e62"/>
<rect x="587.5" y="608.6" width="4.4" height="4.4" fill="#ff3558"/>
<rect x="591.5" y="608.6" width="4.4" height="4.4" fill="#ff2d4e"/>
<rect x="595.5" y="608.6" width="4.4" height="4.4" fill="#ff2646"/>
<rect x="599.5" y="608.6" width="4.4" height="4.4" fill="#ff1f3e"/>
<rect x="603.5" y="608.6" width="4.4" height="4.4" fill="#ff1937"/>
<rect x="607.5" y="608.6" width="4.4" height="4.4" fill="#ff1431"/>
<rect x="611.5" y="608.6" width="4.4" height="4.4" fill="#ff0e2b"/>
<rect x="615.5" y="608.6" width="4.4" height="4.4" fill="#ff0925"/>
<rect x="619.5" y="608.6" width="4.4" height="4.4" fill="#ff0420"/>
<rect x="623.5" y="608.6" width="4.4" height="4.4" fill="#ff001c"/>
<rect x="627.5" y="608.6" width="4.4" height="4.4" fill="#ff0017"/>
<rect x="631.5" y="608.6" width="4.4" height="4.4" fill="#ff0013"/>
<rect x="635.5" y="608.6" width="4.4" height="4.4" fill="#ff000f"/>
<rect x="639.5" y="608.6" width="4.4" height="4.4" fill="#ff000b"/>
<rect x="643.5" y="608.6" width="4.4" height="4.4" fill="#ff0007"/>
<rect x="647.5" y="608.6" width="4.4" height="4.4" fill="#ff0003"/>
<rect x="651.5" y="608.6" width="20.4" height="4.4" fill="#ff0000"/>
<rect x="479.5" y="612.6" width="4.4" height="4.4" fill="#00cdff"/>
<rect x="483.5" y="612.6" width="4.4" height="4.4" fill="#00ccff"/>
<rect x="487.5" y="612.6" width="4.4" height="4.4" fill="#00cbff"/>
<rect x="491.5" y="612.6" width="4.4" height="4.4" fill="#00c9ff"/>
<rect x="495.5" y="612.6" width="4.4" height="4.4" fill="#00c8ff"/>
<rect x="499.5" y="612.6" width="4.4" height="4.4" fill="#00c6ff"/>
<rect x="503.5" y="612.6" width="4.4" height="4.4" fill="#00c5ff"/>
<rect x="507.5" y="612.6" width="4.4" height="4.4" fill="#00c3ff"/>
<rect x="511.5" y="612.6" width="4.4" height="4.4" fill="#00c1ff"/>
<rect x="515.5" y="612.6" width="4.4" height="4.4" fill="#00bfff"/>
<rect x="519.5" y="612.6" width="4.4" height="4.4" fill="#00bdff"/>
<rect x="523.5" y="612.6" width="4.4" height="4.4" fill="#00bbff"/>
<rect x="527.5" y="612.6" width="4.4" height="4.4" fill="#00b9ff"/>
<rect x="531.5" y="612.6" width="4.4" height="4.4" fill="#1db7ff"/>
<rect x="535.5" y="612.6" width="4.4" height="4.4" fill="#42b4ff"/>
<rect x="539.5" y="612.6" width="4.4" height="4.4" fill="#65b1ff"/>
<rect x="543.5" y="612.6" width="4.4" height="4.4" fill="#8aafff"/>
<rect x="547.5" y="612.6" width="4.4" height="4.4" fill="#afabff"/>
<rect x="551.5" y="612.6" width="4.4" height="4.4" fill="#d6a8ff"/>
<rect x="555.5" y="612.6" width="4.4" height="4.4" fill="#ffa4ff"/>
<rect x="559.5" y="612.6" width="4.4" height="4.4" fill="#ff89da"/>
<rect x="563.5" y="612.6" width="4.4" height="4.4" fill="#ff74bd"/>
<rect x="567.5" y="612.6" width="4.4" height="4.4" fill="#ff62a6"/>
<rect x="571.5" y="612.6" width="4.4" height="4.4" fill="#ff5392"/>
<rect x="575.5" y="612.6" width="4.4" height="4.4" fill="#ff4781"/>
<rect x="579.5" y="612.6" width="4.4" height="4.4" fill="#ff3c73"/>
<rect x="583.5" y="612.6" width="4.4" height="4.4" fill="#ff3367"/>
<rect x="587.5" y="612.6" width="4.4" height="4.4" fill="#ff2b5c"/>
<rect x="591.5" y="612.6" width="4.4" height="4.4" fill="#ff2353"/>
<rect x="595.5" y="612.6" width="4.4" height="4.4" fill="#ff1c4a"/>
<rect x="599.5" y="612.6" width="4.4" height="4.4" fill="#ff1642"/>
<rect x="603.5" y="612.6" width="4.4" height="4.4" fill="#ff103b"/>
<rect x="607.5" y="612.6" width="4.4" height="4.4" fill="#ff0b35"/>
<rect x="611.5" y="612.6" width="4.4" height="4.4" fill="#ff062f"/>
<rect x="615.5" y="612.6" width="4.4" height="4.4" fill="#ff0029"/>
<rect x="619.5" y="612.6" width="4.4" height="4.4" fill="#ff0024"/>
<rect x="623.5" y="612.6" width="4.4" height="4.4" fill="#ff0020"/>
<rect x="627.5" y="612.6" width="4.4" height="4.4" fill="#ff001b"/>
<rect x="631.5" y="612.6" width="4.4" height="4.4" fill="#ff0017"/>
<rect x="635.5" y="612.6" width="4.4" height="4.4" fill="#ff0013"/>
<rect x="639.5" y="612.6" width="4.4" height="4.4" fill="#ff000f"/>
<rect x="643.5" y="612.6" width="4.4" height="4.4" fill="#ff000b"/>
<rect x="647.5" y="612.6" width="4.4" height="4.4" fill="#ff0008"/>
<rect x="651.5" y="612.6" width="4.4" height="4.4" fill="#ff0004"/>
<rect x="655.5" y="612.6" width="12.4" height="4.4" fill="#ff0000"/>
<rect x="479.5" y="616.6" width="4.4" height="4.4" fill="#00bfff"/>
<rect x="483.5" y="616.6" width="4.4" height="4.4" fill="#00bdff"/>
<rect x="487.5" y="616.6" width="4.4" height="4.4" fill="#00bcff"/>
<rect x="491.5" y="616.6" width="4.4" height="4.4" fill="#00baff"/>
<rect x="495.5" y="616.6" width="4.4" height="4.4" fill="#00b8ff"/>
<rect x="499.5" y="616.6" width="4.4" height="4.4" fill="#00b6ff"/>
<rect x="503.5" y="616.6" width="4.4" height="4.4" fill="#00b5ff"/>
<rect x="507.5" y="616.6" width="4.4" height="4.4" fill="#00b2ff"/>
<rect x="511.5" y="616.6" width="4.4" height="4.4" fill="#00b0ff"/>
<rect x="515.5" y="616.6" width="4.4" height="4.4" fill="#00aeff"/>
<rect x="519.5" y="616.6" width="4.4" height="4.4" fill="#00acff"/>
<rect x="523.5" y="616.6" width="4.4" height="4.4" fill="#00a9ff"/>
<rect x="527.5" y="616.6" width="4.4" height="4.4" fill="#00a6ff"/>
<rect x="531.5" y="616.6" width="4.4" height="4.4" fill="#26a3ff"/>
<rect x="535.5" y="616.6" width="4.4" height="4.4" fill="#48a0ff"/>
<rect x="539.5" y="616.6" width="4.4" height="4.4" fill="#6a9dff"/>
<rect x="543.5" y="616.6" width="4.4" height="4.4" fill="#8d99ff"/>
<rect x="547.5" y="616.6" width="4.4" height="4.4" fill="#b195ff"/>
<rect x="551.5" y="616.6" width="4.4" height="4.4" fill="#d691ff"/>
<rect x="555.5" y="616.6" width="4.4" height="4.4" fill="#fd8dff"/>
<rect x="559.5" y="616.6" width="4.4" height="4.4" fill="#ff76dd"/>
<rect x="563.5" y="616.6" width="4.4" height="4.4" fill="#ff63c1"/>
<rect x="567.5" y="616.6" width="4.4" height="4.4" fill="#ff53a9"/>
<rect x="571.5" y="616.6" width="4.4" height="4.4" fill="#ff4696"/>
<rect x="575.5" y="616.6" width="4.4" height="4.4" fill="#ff3b86"/>
<rect x="579.5" y="616.6" width="4.4" height="4.4" fill="#ff3178"/>
<rect x="583.5" y="616.6" width="4.4" height="4.4" fill="#ff286b"/>
<rect x="587.5" y="616.6" width="4.4" height="4.4" fill="#ff2060"/>
<rect x="591.5" y="616.6" width="4.4" height="4.4" fill="#ff1957"/>
<rect x="595.5" y="616.6" width="4.4" height="4.4" fill="#ff134e"/>
<rect x="599.5" y="616.6" width="4.4" height="4.4" fill="#ff0d46"/>
<rect x="603.5" y="616.6" width="4.4" height="4.4" fill="#ff073f"/>
<rect x="607.5" y="616.6" width="4.4" height="4.4" fill="#ff0139"/>
<rect x="611.5" y="616.6" width="4.4" height="4.4" fill="#ff0033"/>
<rect x="615.5" y="616.6" width="4.4" height="4.4" fill="#ff002d"/>
<rect x="619.5" y="616.6" width="4.4" height="4.4" fill="#ff0028"/>
<rect x="623.5" y="616.6" width="4.4" height="4.4" fill="#ff0023"/>
<rect x="627.5" y="616.6" width="4.4" height="4.4" fill="#ff001f"/>
<rect x="631.5" y="616.6" width="4.4" height="4.4" fill="#ff001b"/>
<rect x="635.5" y="616.6" width="4.4" height="4.4" fill="#ff0017"/>
<rect x="639.5" y="616.6" width="4.4" height="4.4" fill="#ff0013"/>
<rect x="643.5" y="616.6" width="4.4" height="4.4" fill="#ff000f"/>
<rect x="647.5" y="616.6" width="4.4" height="4.4" fill="#ff000c"/>
<rect x="651.5" y="616.6" width="4.4" height="4.4" fill="#ff0008"/>
<rect x="655.5" y="616.6" width="4.4" height="4.4" fill="#ff0005"/>
<rect x="659.5" y="616.6" width="4.4" height="4.4" fill="#ff0001"/>
<rect x="663.5" y="616.6" width="8.4" height="4.4" fill="#ff0000"/>
<rect x="483.5" y="620.6" width="4.4" height="4.4" fill="#00b0ff"/>
<rect x="487.5" y="620.6" width="4.4" height="4.4" fill="#00aeff"/>
<rect x="491.5" y="620.6" width="4.4" height="4.4" fill="#00acff"/>
<rect x="495.5" y="620.6" width="4.4" height="4.4" fill="#00aaff"/>
<rect x="499.5" y="620.6" width="4.4" height="4.4" fill="#00a7ff"/>
<rect x="503.5" y="620.6" width="4.4" height="4.4" fill="#00a5ff"/>
<rect x="507.5" y="620.6" width="4.4" height="4.4" fill="#00a3ff"/>
<rect x="511.5" y="620.6" width="4.4" height="4.4" fill="#00a0ff"/>
<rect x="515.5" y="620.6" width="4.4" height="4.4" fill="#009dff"/>
<rect x="519.5" y="620.6" width="4.4" height="4.4" fill="#009bff"/>
<rect x="523.5" y="620.6" width="4.4" height="4.4" fill="#0098ff"/>
<rect x="527.5" y="620.6" width="4.4" height="4.4" fill="#0b94ff"/>
<rect x="531.5" y="620.6" width="4.4" height="4.4" fill="#2e91ff"/>
<rect x="535.5" y="620.6" width="4.4" height="4.4" fill="#4e8dff"/>
<rect x="539.5" y="620.6" width="4.4" height="4.4" fill="#6f8aff"/>
<rect x="543.5" y="620.6" width="4.4" height="4.4" fill="#9085ff"/>
<rect x="547.5" y="620.6" width="4.4" height="4.4" fill="#b281ff"/>
<rect x="551.5" y="620.6" width="4.4" height="4.4" fill="#d67cff"/>
<rect x="555.5" y="620.6" width="4.4" height="4.4" fill="#fb77ff"/>
<rect x="559.5" y="620.6" width="4.4" height="4.4" fill="#ff64e0"/>
<rect x="563.5" y="620.6" width="4.4" height="4.4" fill="#ff53c4"/>
<rect x="567.5" y="620.6" width="4.4" height="4.4" fill="#ff44ad"/>
<rect x="571.5" y="620.6" width="4.4" height="4.4" fill="#ff389a"/>
<rect x="575.5" y="620.6" width="4.4" height="4.4" fill="#ff2e8a"/>
<rect x="579.5" y="620.6" width="4.4" height="4.4" fill="#ff257c"/>
<rect x="583.5" y="620.6" width="4.4" height="4.4" fill="#ff1d6f"/>
<rect x="587.5" y="620.6" width="4.4" height="4.4" fill="#ff1665"/>
<rect x="591.5" y="620.6" width="4.4" height="4.4" fill="#ff0f5b"/>
<rect x="595.5" y="620.6" width="4.4" height="4.4" fill="#ff0952"/>
<rect x="599.5" y="620.6" width="4.4" height="4.4" fill="#ff034a"/>
<rect x="603.5" y="620.6" width="4.4" height="4.4" fill="#ff0043"/>
<rect x="607.5" y="620.6" width="4.4" height="4.4" fill="#ff003d"/>
<rect x="611.5" y="620.6" width="4.4" height="4.4" fill="#ff0037"/>
<rect x="615.5" y="620.6" width="4.4" height="4.4" fill="#ff0031"/>
<rect x="619.5" y="620.6" width="4.4" height="4.4" fill="#ff002c"/>
<rect x="623.5" y="620.6" width="4.4" height="4.4" fill="#ff0027"/>
<rect x="627.5" y="620.6" width="4.4" height="4.4" fill="#ff0023"/>
<rect x="631.5" y="620.6" width="4.4" height="4.4" fill="#ff001e"/>
<rect x="635.5" y="620.6" width="4.4" height="4.4" fill="#ff001a"/>
<rect x="639.5" y="620.6" width="4.4" height="4.4" fill="#ff0017"/>
<rect x="643.5" y="620.6" width="4.4" height="4.4" fill="#ff0013"/>
<rect x="647.5" y="620.6" width="4.4" height="4.4" fill="#ff000f"/>
<rect x="651.5" y="620.6" width="4.4" height="4.4" fill="#ff000c"/>
<rect x="655.5" y="620.6" width="4.4" height="4.4" fill="#ff0009"/>
<rect x="659.5" y="620.6" width="4.4" height="4.4" fill="#ff0006"/>
<rect x="663.5" y="620.6" width="4.4" height="4.4" fill="#ff0002"/>
<rect x="667.5" y="620.6" width="4.4" height="4.4" fill="#ff0000"/>
<rect x="483.5" y="624.6" width="4.4" height="4.4" fill="#00a2ff"/>
<rect x="487.5" y="624.6" width="4.4" height="4.4" fill="#00a0ff"/>
<rect x="491.5" y="624.6" width="4.4" height="4.4" fill="#009eff"/>
<rect x="495.5" y="624.6" width="4.4" height="4.4" fill="#009bff"/>
<rect x="499.5" y="624.6" width="4.4" height="4.4" fill="#0099ff"/>
<rect x="503.5" y="624.6" width="4.4" height="4.4" fill="#0096ff"/>
<rect x="507.5" y="624.6" width="4.4" height="4.4" fill="#0094ff"/>
<rect x="511.5" y="624.6" width="4.4" height="4.4" fill="#0091ff"/>
<rect x="515.5" y="624.6" width="4.4" height="4.4" fill="#008eff"/>
<rect x="519.5" y="624.6" width="4.4" height="4.4" fill="#008bff"/>
<rect x="523.5" y="624.6" width="4.4" height="4.4" fill="#0087ff"/>
<rect x="527.5" y="624.6" width="4.4" height="4.4" fill="#1484ff"/>
<rect x="531.5" y="624.6" width="4.4" height="4.4" fill="#3580ff"/>
<rect x="535.5" y="624.6" width="4.4" height="4.4" fill="#547cff"/>
<rect x="539.5" y="624.6" width="4.4" height="4.4" fill="#7377ff"/>
<rect x="543.5" y="624.6" width="4.4" height="4.4" fill="#9373ff"/>
<rect x="547.5" y="624.6" width="4.4" height="4.4" fill="#b46eff"/>
<rect x="551.5" y="624.6" width="4.4" height="4.4" fill="#d668ff"/>
<rect x="555.5" y="624.6" width="4.4" height="4.4" fill="#fa63ff"/>
<rect x="559.5" y="624.6" width="4.4" height="4.4" fill="#ff52e3"/>
<rect x="563.5" y="624.6" width="4.4" height="4.4" fill="#ff43c7"/>
<rect x="567.5" y="624.6" width="4.4" height="4.4" fill="#ff36b1"/>
<rect x="571.5" y="624.6" width="4.4" height="4.4" fill="#ff2b9e"/>
<rect x="575.5" y="624.6" width="4.4" height="4.4" fill="#ff228e"/>
<rect x="579.5" y="624.6" width="4.4" height="4.4" fill="#ff1a80"/>
<rect x="583.5" y="624.6" width="4.4" height="4.4" fill="#ff1273"/>
<rect x="587.5" y="624.6" width="4.4" height="4.4" fill="#ff0b68"/>
<rect x="591.5" y="624.6" width="4.4" height="4.4" fill="#ff045f"/>
<rect x="595.5" y="624.6" width="4.4" height="4.4" fill="#ff0056"/>
<rect x="599.5" y="624.6" width="4.4" height="4.4" fill="#ff004e"/>
<rect x="603.5" y="624.6" width="4.4" height="4.4" fill="#ff0047"/>
<rect x="607.5" y="624.6" width="4.4" height="4.4" fill="#ff0040"/>
<rect x="611.5" y="624.6" width="4.4" height="4.4" fill="#ff003a"/>
<rect x="615.5" y="624.6" width="4.4" height="4.4" fill="#ff0035"/>
<rect x="619.5" y="624.6" width="4.4" height="4.4" fill="#ff0030"/>
<rect x="623.5" y="624.6" width="4.4" height="4.4" fill="#ff002b"/>
<rect x="627.5" y="624.6" width="4.4" height="4.4" fill="#ff0026"/>
<rect x="631.5" y="624.6" width="4.4" height="4.4" fill="#ff0022"/>
<rect x="635.5" y="624.6" width="4.4" height="4.4" fill="#ff001e"/>
<rect x="639.5" y="624.6" width="4.4" height="4.4" fill="#ff001a"/>
<rect x="643.5" y="624.6" width="4.4" height="4.4" fill="#ff0016"/>
<rect x="647.5" y="624.6" width="4.4" height="4.4" fill="#ff0013"/>
<rect x="651.5" y="624.6" width="4.4" height="4.4" fill="#ff0010"/>
<rect x="655.5" y="624.6" width="4.4" height="4.4" fill="#ff000c"/>
<rect x="659.5" y="624.6" width="4.4" height="4.4" fill="#ff0009"/>
<rect x="663.5" y="624.6" width="4.4" height="4.4" fill="#ff0006"/>
<rect x="483.5" y="628.6" width="4.4" height="4.4" fill="#0096ff"/>
<rect x="487.5" y="628.6" width="4.4" height="4.4" fill="#0093ff"/>
<rect x="491.5" y="628.6" width="4.4" height="4.4" fill="#0091ff"/>
<rect x="495.5" y="628.6" width="4.4" height="4.4" fill="#008eff"/>
<rect x="499.5" y="628.6" width="4.4" height="4.4" fill="#008bff"/>
<rect x="503.5" y="628.6" width="4.4" height="4.4" fill="#0088ff"/>
<rect x="507.5" y="628.6" width="4.4" height="4.4" fill="#0085ff"/>
<rect x="511.5" y="628.6" width="4.4" height="4.4" fill="#0082ff"/>
<rect x="515.5" y="628.6" width="4.4" height="4.4" fill="#007fff"/>
<rect x="519.5" y="628.6" width="4.4" height="4.4" fill="#007bff"/>
<rect x="523.5" y="628.6" width="4.4" height="4.4" fill="#0077ff"/>
<rect x="527.5" y="628.6" width="4.4" height="4.4" fill="#1c74ff"/>
<rect x="531.5" y="628.6" width="4.4" height="4.4" fill="#3b6fff"/>
<rect x="535.5" y="628.6" width="4.4" height="4.4" fill="#596bff"/>
<rect x="539.5" y="628.6" width="4.4" height="4.4" fill="#7766ff"/>
<rect x="543.5" y="628.6" width="4.4" height="4.4" fill="#9661ff"/>
<rect x="547.5" y="628.6" width="4.4" height="4.4" fill="#b55bff"/>
<rect x="551.5" y="628.6" width="4.4" height="4.4" fill="#d656ff"/>
<rect x="555.5" y="628.6" width="4.4" height="4.4" fill="#f84fff"/>
<rect x="559.5" y="628.6" width="4.4" height="4.4" fill="#ff41e5"/>
<rect x="563.5" y="628.6" width="4.4" height="4.4" fill="#ff33ca"/>
<rect x="567.5" y="628.6" width="4.4" height="4.4" fill="#ff28b4"/>
<rect x="571.5" y="628.6" width="4.4" height="4.4" fill="#ff1ea1"/>
<rect x="575.5" y="628.6" width="4.4" height="4.4" fill="#ff1591"/>
<rect x="579.5" y="628.6" width="4.4" height="4.4" fill="#ff0e83"/>
<rect x="583.5" y="628.6" width="4.4" height="4.4" fill="#ff0677"/>
<rect x="587.5" y="628.6" width="4.4" height="4.4" fill="#ff006c"/>
<rect x="591.5" y="628.6" width="4.4" height="4.4" fill="#ff0063"/>
<rect x="595.5" y="628.6" width="4.4" height="4.4" fill="#ff005a"/>
<rect x="599.5" y="628.6" width="4.4" height="4.4" fill="#ff0052"/>
<rect x="603.5" y="628.6" width="4.4" height="4.4" fill="#ff004b"/>
<rect x="607.5" y="628.6" width="4.4" height="4.4" fill="#ff0044"/>
<rect x="611.5" y="628.6" width="4.4" height="4.4" fill="#ff003e"/>
<rect x="615.5" y="628.6" width="4.4" height="4.4" fill="#ff0038"/>
<rect x="619.5" y="628.6" width="4.4" height="4.4" fill="#ff0033"/>
<rect x="623.5" y="628.6" width="4.4" height="4.4" fill="#ff002e"/>
<rect x="627.5" y="628.6" width="4.4" height="4.4" fill="#ff002a"/>
<rect x="631.5" y="628.6" width="4.4" height="4.4" fill="#ff0025"/>
<rect x="635.5" y="628.6" width="4.4" height="4.4" fill="#ff0021"/>
<rect x="639.5" y="628.6" width="4.4" height="4.4" fill="#ff001e"/>
<rect x="643.5" y="628.6" width="4.4" height="4.4" fill="#ff001a"/>
<rect x="647.5" y="628.6" width="4.4" height="4.4" fill="#ff0016"/>
<rect x="651.5" y="628.6" width="4.4" height="4.4" fill="#ff0013"/>
<rect x="655.5" y="628.6" width="4.4" height="4.4" fill="#ff0010"/>
<rect x="483.5" y="632.6" width="4.4" height="4.4" fill="#0089ff"/>
<rect x="487.5" y="632.6" width="4.4" height="4.4" fill="#0087ff"/>
<rect x="491.5" y="632.6" width="4.4" height="4.4" fill="#0084ff"/>
<rect x="495.5" y="632.6" width="4.4" height="4.4" fill="#0081ff"/>
<rect x="499.5" y="632.6" width="4.4" height="4.4" fill="#007eff"/>
<rect x="503.5" y="632.6" width="4.4" height="4.4" fill="#007bff"/>
<rect x="507.5" y="632.6" width="4.4" height="4.4" fill="#0078ff"/>
<rect x="511.5" y="632.6" width="4.4" height="4.4" fill="#0074ff"/>
<rect x="515.5" y="632.6" width="4.4" height="4.4" fill="#0070ff"/>
<rect x="519.5" y="632.6" width="4.4" height="4.4" fill="#006dff"/>
<rect x="523.5" y="632.6" width="4.4" height="4.4" fill="#0369ff"/>
<rect x="527.5" y="632.6" width="4.4" height="4.4" fill="#2464ff"/>
<rect x="531.5" y="632.6" width="4.4" height="4.4" fill="#4160ff"/>
<rect x="535.5" y="632.6" width="4.4" height="4.4" fill="#5e5bff"/>
<rect x="539.5" y="632.6" width="4.4" height="4.4" fill="#7b56ff"/>
<rect x="543.5" y="632.6" width="4.4" height="4.4" fill="#9850ff"/>
<rect x="547.5" y="632.6" width="4.4" height="4.4" fill="#b74aff"/>
<rect x="551.5" y="632.6" width="4.4" height="4.4" fill="#d644ff"/>
<rect x="555.5" y="632.6" width="4.4" height="4.4" fill="#f73dff"/>
<rect x="559.5" y="632.6" width="4.4" height="4.4" fill="#ff30e7"/>
<rect x="563.5" y="632.6" width="4.4" height="4.4" fill="#ff24cd"/>
<rect x="567.5" y="632.6" width="4.4" height="4.4" fill="#ff1ab7"/>
<rect x="571.5" y="632.6" width="4.4" height="4.4" fill="#ff11a5"/>
<rect x="575.5" y="632.6" width="4.4" height="4.4" fill="#ff0895"/>
<rect x="579.5" y="632.6" width="4.4" height="4.4" fill="#ff0087"/>
<rect x="583.5" y="632.6" width="4.4" height="4.4" fill="#ff007b"/>
<rect x="587.5" y="632.6" width="4.4" height="4.4" fill="#ff0070"/>
<rect x="591.5" y="632.6" width="4.4" height="4.4" fill="#ff0066"/>
<rect x="595.5" y="632.6" width="4.4" height="4.4" fill="#ff005d"/>
<rect x="599.5" y="632.6" width="4.4" height="4.4" fill="#ff0055"/>
<rect x="603.5" y="632.6" width="4.4" height="4.4" fill="#ff004e"/>
<rect x="607.5" y="632.6" width="4.4" height="4.4" fill="#ff0048"/>
<rect x="611.5" y="632.6" width="4.4" height="4.4" fill="#ff0041"/>
<rect x="615.5" y="632.6" width="4.4" height="4.4" fill="#ff003c"/>
<rect x="619.5" y="632.6" width="4.4" height="4.4" fill="#ff0037"/>
<rect x="623.5" y="632.6" width="4.4" height="4.4" fill="#ff0032"/>
<rect x="627.5" y="632.6" width="4.4" height="4.4" fill="#ff002d"/>
<rect x="631.5" y="632.6" width="4.4" height="4.4" fill="#ff0029"/>
<rect x="635.5" y="632.6" width="4.4" height="4.4" fill="#ff0025"/>
<rect x="639.5" y="632.6" width="4.4" height="4.4" fill="#ff0021"/>
<rect x="643.5" y="632.6" width="4.4" height="4.4" fill="#ff001d"/>
<rect x="647.5" y="632.6" width="4.4" height="4.4" fill="#ff001a"/>
<rect x="487.5" y="636.6" width="4.4" height="4.4" fill="#007bff"/>
<rect x="491.5" y="636.6" width="4.4" height="4.4" fill="#0078ff"/>
<rect x="495.5" y="636.6" width="4.4" height="4.4" fill="#0075ff"/>
<rect x="499.5" y="636.6" width="4.4" height="4.4" fill="#0071ff"/>
<rect x="503.5" y="636.6" width="4.4" height="4.4" fill="#006eff"/>
<rect x="507.5" y="636.6" width="4.4" height="4.4" fill="#006aff"/>
<rect x="511.5" y="636.6" width="4.4" height="4.4" fill="#0067ff"/>
<rect x="515.5" y="636.6" width="4.4" height="4.4" fill="#0063ff"/>
<rect x="519.5" y="636.6" width="4.4" height="4.4" fill="#005fff"/>
<rect x="523.5" y="636.6" width="4.4" height="4.4" fill="#0d5aff"/>
<rect x="527.5" y="636.6" width="4.4" height="4.4" fill="#2a56ff"/>
<rect x="531.5" y="636.6" width="4.4" height="4.4" fill="#4651ff"/>
<rect x="535.5" y="636.6" width="4.4" height="4.4" fill="#624bff"/>
<rect x="539.5" y="636.6" width="4.4" height="4.4" fill="#7e46ff"/>
<rect x="543.5" y="636.6" width="4.4" height="4.4" fill="#9a40ff"/>
<rect x="547.5" y="636.6" width="4.4" height="4.4" fill="#b839ff"/>
<rect x="551.5" y="636.6" width="4.4" height="4.4" fill="#d632ff"/>
<rect x="555.5" y="636.6" width="4.4" height="4.4" fill="#f62bff"/>
<rect x="559.5" y="636.6" width="4.4" height="4.4" fill="#ff20e9"/>
<rect x="563.5" y="636.6" width="4.4" height="4.4" fill="#ff15d0"/>
<rect x="567.5" y="636.6" width="4.4" height="4.4" fill="#ff0bba"/>
<rect x="571.5" y="636.6" width="4.4" height="4.4" fill="#ff02a8"/>
<rect x="575.5" y="636.6" width="4.4" height="4.4" fill="#ff0098"/>
<rect x="579.5" y="636.6" width="4.4" height="4.4" fill="#ff008a"/>
<rect x="583.5" y="636.6" width="4.4" height="4.4" fill="#ff007e"/>
<rect x="587.5" y="636.6" width="4.4" height="4.4" fill="#ff0073"/>
<rect x="591.5" y="636.6" width="4.4" height="4.4" fill="#ff006a"/>
<rect x="595.5" y="636.6" width="4.4" height="4.4" fill="#ff0061"/>
<rect x="599.5" y="636.6" width="4.4" height="4.4" fill="#ff0059"/>
<rect x="603.5" y="636.6" width="4.4" height="4.4" fill="#ff0052"/>
<rect x="607.5" y="636.6" width="4.4" height="4.4" fill="#ff004b"/>
<rect x="611.5" y="636.6" width="4.4" height="4.4" fill="#ff0045"/>
<rect x="615.5" y="636.6" width="4.4" height="4.4" fill="#ff003f"/>
<rect x="619.5" y="636.6" width="4.4" height="4.4" fill="#ff003a"/>
<rect x="623.5" y="636.6" width="4.4" height="4.4" fill="#ff0035"/>
<rect x="627.5" y="636.6" width="4.4" height="4.4" fill="#ff0030"/>
<rect x="631.5" y="636.6" width="4.4" height="4.4" fill="#ff002c"/>
<rect x="635.5" y="636.6" width="4.4" height="4.4" fill="#ff0028"/>
<rect x="639.5" y="636.6" width="4.4" height="4.4" fill="#ff0024"/>
<rect x="487.5" y="640.6" width="4.4" height="4.4" fill="#006fff"/>
<rect x="491.5" y="640.6" width="4.4" height="4.4" fill="#006cff"/>
<rect x="495.5" y="640.6" width="4.4" height="4.4" fill="#0069ff"/>
<rect x="499.5" y="640.6" width="4.4" height="4.4" fill="#0065ff"/>
<rect x="503.5" y="640.6" width="4.4" height="4.4" fill="#0062ff"/>
<rect x="507.5" y="640.6" width="4.4" height="4.4" fill="#005eff"/>
<rect x="511.5" y="640.6" width="4.4" height="4.4" fill="#005aff"/>
<rect x="515.5" y="640.6" width="4.4" height="4.4" fill="#0056ff"/>
<rect x="519.5" y="640.6" width="4.4" height="4.4" fill="#0051ff"/>
<rect x="523.5" y="640.6" width="4.4" height="4.4" fill="#154cff"/>
<rect x="527.5" y="640.6" width="4.4" height="4.4" fill="#3047ff"/>
<rect x="531.5" y="640.6" width="4.4" height="4.4" fill="#4b42ff"/>
<rect x="535.5" y="640.6" width="4.4" height="4.4" fill="#663dff"/>
<rect x="539.5" y="640.6" width="4.4" height="4.4" fill="#8137ff"/>
<rect x="543.5" y="640.6" width="4.4" height="4.4" fill="#9d30ff"/>
<rect x="547.5" y="640.6" width="4.4" height="4.4" fill="#b929ff"/>
<rect x="551.5" y="640.6" width="4.4" height="4.4" fill="#d622ff"/>
<rect x="555.5" y="640.6" width="4.4" height="4.4" fill="#f519ff"/>
<rect x="559.5" y="640.6" width="4.4" height="4.4" fill="#ff0feb"/>
<rect x="563.5" y="640.6" width="4.4" height="4.4" fill="#ff04d2"/>
<rect x="567.5" y="640.6" width="4.4" height="4.4" fill="#ff00bd"/>
<rect x="571.5" y="640.6" width="4.4" height="4.4" fill="#ff00ab"/>
<rect x="575.5" y="640.6" width="4.4" height="4.4" fill="#ff009b"/>
<rect x="579.5" y="640.6" width="4.4" height="4.4" fill="#ff008e"/>
<rect x="583.5" y="640.6" width="4.4" height="4.4" fill="#ff0081"/>
<rect x="587.5" y="640.6" width="4.4" height="4.4" fill="#ff0077"/>
<rect x="591.5" y="640.6" width="4.4" height="4.4" fill="#ff006d"/>
<rect x="595.5" y="640.6" width="4.4" height="4.4" fill="#ff0064"/>
<rect x="599.5" y="640.6" width="4.4" height="4.4" fill="#ff005c"/>
<rect x="603.5" y="640.6" width="4.4" height="4.4" fill="#ff0055"/>
<rect x="607.5" y="640.6" width="4.4" height="4.4" fill="#ff004e"/>
<rect x="611.5" y="640.6" width="4.4" height="4.4" fill="#ff0048"/>
<rect x="615.5" y="640.6" width="4.4" height="4.4" fill="#ff0042"/>
<rect x="619.5" y="640.6" width="4.4" height="4.4" fill="#ff003d"/>
<rect x="623.5" y="640.6" width="4.4" height="4.4" fill="#ff0038"/>
<rect x="627.5" y="640.6" width="4.4" height="4.4" fill="#ff0033"/>
<rect x="631.5" y="640.6" width="4.4" height="4.4" fill="#ff002f"/>
<rect x="487.5" y="644.6" width="4.4" height="4.4" fill="#0064ff"/>
<rect x="491.5" y="644.6" width="4.4" height="4.4" fill="#0061ff"/>
<rect x="495.5" y="644.6" width="4.4" height="4.4" fill="#005dff"/>
<rect x="499.5" y="644.6" width="4.4" height="4.4" fill="#0059ff"/>
<rect x="503.5" y="644.6" width="4.4" height="4.4" fill="#0056ff"/>
<rect x="507.5" y="644.6" width="4.4" height="4.4" fill="#0052ff"/>
<rect x="511.5" y="644.6" width="4.4" height="4.4" fill="#004dff"/>
<rect x="515.5" y="644.6" width="4.4" height="4.4" fill="#0049ff"/>
<rect x="519.5" y="644.6" width="4.4" height="4.4" fill="#0044ff"/>
<rect x="523.5" y="644.6" width="4.4" height="4.4" fill="#1c3fff"/>
<rect x="527.5" y="644.6" width="4.4" height="4.4" fill="#363aff"/>
<rect x="531.5" y="644.6" width="4.4" height="4.4" fill="#5034ff"/>
<rect x="535.5" y="644.6" width="4.4" height="4.4" fill="#6a2eff"/>
<rect x="539.5" y="644.6" width="4.4" height="4.4" fill="#8428ff"/>
<rect x="543.5" y="644.6" width="4.4" height="4.4" fill="#9f21ff"/>
<rect x="547.5" y="644.6" width="4.4" height="4.4" fill="#ba19ff"/>
<rect x="551.5" y="644.6" width="4.4" height="4.4" fill="#d611ff"/>
<rect x="555.5" y="644.6" width="4.4" height="4.4" fill="#f407ff"/>
<rect x="559.5" y="644.6" width="4.4" height="4.4" fill="#ff00ed"/>
<rect x="563.5" y="644.6" width="4.4" height="4.4" fill="#ff00d5"/>
<rect x="567.5" y="644.6" width="4.4" height="4.4" fill="#ff00c0"/>
<rect x="571.5" y="644.6" width="4.4" height="4.4" fill="#ff00ae"/>
<rect x="575.5" y="644.6" width="4.4" height="4.4" fill="#ff009e"/>
<rect x="579.5" y="644.6" width="4.4" height="4.4" fill="#ff0091"/>
<rect x="583.5" y="644.6" width="4.4" height="4.4" fill="#ff0085"/>
<rect x="587.5" y="644.6" width="4.4" height="4.4" fill="#ff007a"/>
<rect x="591.5" y="644.6" width="4.4" height="4.4" fill="#ff0070"/>
<rect x="595.5" y="644.6" width="4.4" height="4.4" fill="#ff0067"/>
<rect x="599.5" y="644.6" width="4.4" height="4.4" fill="#ff005f"/>
<rect x="603.5" y="644.6" width="4.4" height="4.4" fill="#ff0058"/>
<rect x="607.5" y="644.6" width="4.4" height="4.4" fill="#ff0051"/>
<rect x="611.5" y="644.6" width="4.4" height="4.4" fill="#ff004b"/>
<rect x="615.5" y="644.6" width="4.4" height="4.4" fill="#ff0045"/>
<rect x="619.5" y="644.6" width="4.4" height="4.4" fill="#ff0040"/>
<rect x="623.5" y="644.6" width="4.4" height="4.4" fill="#ff003b"/>
<rect x="491.5" y="648.6" width="4.4" height="4.4" fill="#0056ff"/>
<rect x="495.5" y="648.6" width="4.4" height="4.4" fill="#0052ff"/>
<rect x="499.5" y="648.6" width="4.4" height="4.4" fill="#004eff"/>
<rect x="503.5" y="648.6" width="4.4" height="4.4" fill="#004aff"/>
<rect x="507.5" y="648.6" width="4.4" height="4.4" fill="#0046ff"/>
<rect x="511.5" y="648.6" width="4.4" height="4.4" fill="#0041ff"/>
<rect x="515.5" y="648.6" width="4.4" height="4.4" fill="#003cff"/>
<rect x="519.5" y="648.6" width="4.4" height="4.4" fill="#0637ff"/>
<rect x="523.5" y="648.6" width="4.4" height="4.4" fill="#2232ff"/>
<rect x="527.5" y="648.6" width="4.4" height="4.4" fill="#3b2cff"/>
<rect x="531.5" y="648.6" width="4.4" height="4.4" fill="#5426ff"/>
<rect x="535.5" y="648.6" width="4.4" height="4.4" fill="#6d20ff"/>
<rect x="539.5" y="648.6" width="4.4" height="4.4" fill="#8719ff"/>
<rect x="543.5" y="648.6" width="4.4" height="4.4" fill="#a011ff"/>
<rect x="547.5" y="648.6" width="4.4" height="4.4" fill="#bb08ff"/>
<rect x="551.5" y="648.6" width="4.4" height="4.4" fill="#d600ff"/>
<rect x="555.5" y="648.6" width="4.4" height="4.4" fill="#f300ff"/>
<rect x="559.5" y="648.6" width="4.4" height="4.4" fill="#ff00ef"/>
<rect x="563.5" y="648.6" width="4.4" height="4.4" fill="#ff00d7"/>
<rect x="567.5" y="648.6" width="4.4" height="4.4" fill="#ff00c2"/>
<rect x="571.5" y="648.6" width="4.4" height="4.4" fill="#ff00b1"/>
<rect x="575.5" y="648.6" width="4.4" height="4.4" fill="#ff00a1"/>
<rect x="579.5" y="648.6" width="4.4" height="4.4" fill="#ff0094"/>
<rect x="583.5" y="648.6" width="4.4" height="4.4" fill="#ff0088"/>
<rect x="587.5" y="648.6" width="4.4" height="4.4" fill="#ff007d"/>
<rect x="591.5" y="648.6" width="4.4" height="4.4" fill="#ff0073"/>
<rect x="595.5" y="648.6" width="4.4" height="4.4" fill="#ff006b"/>
<rect x="599.5" y="648.6" width="4.4" height="4.4" fill="#ff0063"/>
<rect x="603.5" y="648.6" width="4.4" height="4.4" fill="#ff005b"/>
<rect x="607.5" y="648.6" width="4.4" height="4.4" fill="#ff0055"/>
<rect x="611.5" y="648.6" width="4.4" height="4.4" fill="#ff004e"/>
<rect x="615.5" y="648.6" width="4.4" height="4.4" fill="#ff0048"/>
<rect x="491.5" y="652.6" width="4.4" height="4.4" fill="#004bff"/>
<rect x="495.5" y="652.6" width="4.4" height="4.4" fill="#0047ff"/>
<rect x="499.5" y="652.6" width="4.4" height="4.4" fill="#0043ff"/>
<rect x="503.5" y="652.6" width="4.4" height="4.4" fill="#003fff"/>
<rect x="507.5" y="652.6" width="4.4" height="4.4" fill="#003aff"/>
<rect x="511.5" y="652.6" width="4.4" height="4.4" fill="#0035ff"/>
<rect x="515.5" y="652.6" width="4.4" height="4.4" fill="#0030ff"/>
<rect x="519.5" y="652.6" width="4.4" height="4.4" fill="#0e2bff"/>
<rect x="523.5" y="652.6" width="4.4" height="4.4" fill="#2825ff"/>
<rect x="527.5" y="652.6" width="4.4" height="4.4" fill="#401fff"/>
<rect x="531.5" y="652.6" width="4.4" height="4.4" fill="#5819ff"/>
<rect x="535.5" y="652.6" width="4.4" height="4.4" fill="#7112ff"/>
<rect x="539.5" y="652.6" width="4.4" height="4.4" fill="#890aff"/>
<rect x="543.5" y="652.6" width="4.4" height="4.4" fill="#a200ff"/>
<rect x="547.5" y="652.6" width="4.4" height="4.4" fill="#bc00ff"/>
<rect x="551.5" y="652.6" width="4.4" height="4.4" fill="#d600ff"/>
<rect x="555.5" y="652.6" width="4.4" height="4.4" fill="#f200ff"/>
<rect x="559.5" y="652.6" width="4.4" height="4.4" fill="#ff00f1"/>
<rect x="563.5" y="652.6" width="4.4" height="4.4" fill="#ff00d9"/>
<rect x="567.5" y="652.6" width="4.4" height="4.4" fill="#ff00c5"/>
<rect x="571.5" y="652.6" width="4.4" height="4.4" fill="#ff00b3"/>
<rect x="575.5" y="652.6" width="4.4" height="4.4" fill="#ff00a4"/>
<rect x="579.5" y="652.6" width="4.4" height="4.4" fill="#ff0097"/>
<rect x="583.5" y="652.6" width="4.4" height="4.4" fill="#ff008b"/>
<rect x="587.5" y="652.6" width="4.4" height="4.4" fill="#ff0080"/>
<rect x="591.5" y="652.6" width="4.4" height="4.4" fill="#ff0076"/>
<rect x="595.5" y="652.6" width="4.4" height="4.4" fill="#ff006e"/>
<rect x="599.5" y="652.6" width="4.4" height="4.4" fill="#ff0066"/>
<rect x="603.5" y="652.6" width="4.4" height="4.4" fill="#ff005e"/>
<rect x="607.5" y="652.6" width="4.4" height="4.4" fill="#ff0057"/>
<rect x="491.5" y="656.6" width="4.4" height="4.4" fill="#0040ff"/>
<rect x="495.5" y="656.6" width="4.4" height="4.4" fill="#003cff"/>
<rect x="499.5" y="656.6" width="4.4" height="4.4" fill="#0038ff"/>
<rect x="503.5" y="656.6" width="4.4" height="4.4" fill="#0034ff"/>
<rect x="507.5" y="656.6" width="4.4" height="4.4" fill="#002fff"/>
<rect x="511.5" y="656.6" width="4.4" height="4.4" fill="#002aff"/>
<rect x="515.5" y="656.6" width="4.4" height="4.4" fill="#0024ff"/>
<rect x="519.5" y="656.6" width="4.4" height="4.4" fill="#151fff"/>
<rect x="523.5" y="656.6" width="4.4" height="4.4" fill="#2d19ff"/>
<rect x="527.5" y="656.6" width="4.4" height="4.4" fill="#4512ff"/>
<rect x="531.5" y="656.6" width="4.4" height="4.4" fill="#5c0bff"/>
<rect x="535.5" y="656.6" width="4.4" height="4.4" fill="#7402ff"/>
<rect x="539.5" y="656.6" width="4.4" height="4.4" fill="#8b00ff"/>
<rect x="543.5" y="656.6" width="4.4" height="4.4" fill="#a400ff"/>
<rect x="547.5" y="656.6" width="4.4" height="4.4" fill="#bd00ff"/>
<rect x="551.5" y="656.6" width="4.4" height="4.4" fill="#d600ff"/>
<rect x="555.5" y="656.6" width="4.4" height="4.4" fill="#f100ff"/>
<rect x="559.5" y="656.6" width="4.4" height="4.4" fill="#ff00f2"/>
<rect x="563.5" y="656.6" width="4.4" height="4.4" fill="#ff00db"/>
<rect x="567.5" y="656.6" width="4.4" height="4.4" fill="#ff00c7"/>
<rect x="571.5" y="656.6" width="4.4" height="4.4" fill="#ff00b6"/>
<rect x="575.5" y="656.6" width="4.4" height="4.4" fill="#ff00a7"/>
<rect x="579.5" y="656.6" width="4.4" height="4.4" fill="#ff009a"/>
<rect x="583.5" y="656.6" width="4.4" height="4.4" fill="#ff008e"/>
<rect x="587.5" y="656.6" width="4.4" height="4.4" fill="#ff0083"/>
<rect x="591.5" y="656.6" width="4.4" height="4.4" fill="#ff0079"/>
<rect x="595.5" y="656.6" width="4.4" height="4.4" fill="#ff0071"/>
<rect x="495.5" y="660.6" width="4.4" height="4.4" fill="#0032ff"/>
<rect x="499.5" y="660.6" width="4.4" height="4.4" fill="#002dff"/>
<rect x="503.5" y="660.6" width="4.4" height="4.4" fill="#0029ff"/>
<rect x="507.5" y="660.6" width="4.4" height="4.4" fill="#0024ff"/>
<rect x="511.5" y="660.6" width="4.4" height="4.4" fill="#001eff"/>
<rect x="515.5" y="660.6" width="4.4" height="4.4" fill="#0019ff"/>
<rect x="519.5" y="660.6" width="4.4" height="4.4" fill="#1b12ff"/>
<rect x="523.5" y="660.6" width="4.4" height="4.4" fill="#320cff"/>
<rect x="527.5" y="660.6" width="4.4" height="4.4" fill="#4904ff"/>
<rect x="531.5" y="660.6" width="4.4" height="4.4" fill="#6000ff"/>
<rect x="535.5" y="660.6" width="4.4" height="4.4" fill="#7700ff"/>
<rect x="539.5" y="660.6" width="4.4" height="4.4" fill="#8e00ff"/>
<rect x="543.5" y="660.6" width="4.4" height="4.4" fill="#a500ff"/>
<rect x="547.5" y="660.6" width="4.4" height="4.4" fill="#be00ff"/>
<rect x="551.5" y="660.6" width="4.4" height="4.4" fill="#d600ff"/>
<rect x="555.5" y="660.6" width="4.4" height="4.4" fill="#f000ff"/>
<rect x="559.5" y="660.6" width="4.4" height="4.4" fill="#ff00f4"/>
<rect x="563.5" y="660.6" width="4.4" height="4.4" fill="#ff00dd"/>
<rect x="567.5" y="660.6" width="4.4" height="4.4" fill="#ff00c9"/>
<rect x="571.5" y="660.6" width="4.4" height="4.4" fill="#ff00b8"/>
<rect x="575.5" y="660.6" width="4.4" height="4.4" fill="#ff00a9"/>
<rect x="579.5" y="660.6" width="4.4" height="4.4" fill="#ff009c"/>
<rect x="583.5" y="660.6" width="4.4" height="4.4" fill="#ff0090"/>
<rect x="587.5" y="660.6" width="4.4" height="4.4" fill="#ff0086"/>
<rect x="495.5" y="664.6" width="4.4" height="4.4" fill="#0028ff"/>
<rect x="499.5" y="664.6" width="4.4" height="4.4" fill="#0023ff"/>
<rect x="503.5" y="664.6" width="4.4" height="4.4" fill="#001eff"/>
<rect x="507.5" y="664.6" width="4.4" height="4.4" fill="#0018ff"/>
<rect x="511.5" y="664.6" width="4.4" height="4.4" fill="#0013ff"/>
<rect x="515.5" y="664.6" width="4.4" height="4.4" fill="#080cff"/>
<rect x="519.5" y="664.6" width="4.4" height="4.4" fill="#2105ff"/>
<rect x="523.5" y="664.6" width="4.4" height="4.4" fill="#3700ff"/>
<rect x="527.5" y="664.6" width="4.4" height="4.4" fill="#4d00ff"/>
<rect x="531.5" y="664.6" width="4.4" height="4.4" fill="#6300ff"/>
<rect x="535.5" y="664.6" width="4.4" height="4.4" fill="#7900ff"/>
<rect x="539.5" y="664.6" width="4.4" height="4.4" fill="#9000ff"/>
<rect x="543.5" y="664.6" width="4.4" height="4.4" fill="#a700ff"/>
<rect x="547.5" y="664.6" width="4.4" height="4.4" fill="#be00ff"/>
<rect x="551.5" y="664.6" width="4.4" height="4.4" fill="#d600ff"/>
<rect x="555.5" y="664.6" width="4.4" height="4.4" fill="#ef00ff"/>
<rect x="559.5" y="664.6" width="4.4" height="4.4" fill="#ff00f5"/>
<rect x="563.5" y="664.6" width="4.4" height="4.4" fill="#ff00df"/>
<rect x="567.5" y="664.6" width="4.4" height="4.4" fill="#ff00cc"/>
<rect x="571.5" y="664.6" width="4.4" height="4.4" fill="#ff00bb"/>
<rect x="575.5" y="664.6" width="4.4" height="4.4" fill="#ff00ac"/>
<rect x="579.5" y="664.6" width="4.4" height="4.4" fill="#ff009f"/>
<rect x="495.5" y="668.6" width="4.4" height="4.4" fill="#001dff"/>
<rect x="499.5" y="668.6" width="4.4" height="4.4" fill="#0018ff"/>
<rect x="503.5" y="668.6" width="4.4" height="4.4" fill="#0013ff"/>
<rect x="507.5" y="668.6" width="4.4" height="4.4" fill="#000dff"/>
<rect x="511.5" y="668.6" width="4.4" height="4.4" fill="#0006ff"/>
<rect x="515.5" y="668.6" width="4.4" height="4.4" fill="#0f00ff"/>
<rect x="519.5" y="668.6" width="4.4" height="4.4" fill="#2600ff"/>
<rect x="523.5" y="668.6" width="4.4" height="4.4" fill="#3c00ff"/>
<rect x="527.5" y="668.6" width="4.4" height="4.4" fill="#5100ff"/>
<rect x="531.5" y="668.6" width="4.4" height="4.4" fill="#6600ff"/>
<rect x="535.5" y="668.6" width="4.4" height="4.4" fill="#7c00ff"/>
<rect x="539.5" y="668.6" width="4.4" height="4.4" fill="#9200ff"/>
<rect x="543.5" y="668.6" width="4.4" height="4.4" fill="#a800ff"/>
<rect x="547.5" y="668.6" width="4.4" height="4.4" fill="#bf00ff"/>
<rect x="551.5" y="668.6" width="4.4" height="4.4" fill="#d600ff"/>
<rect x="555.5" y="668.6" width="4.4" height="4.4" fill="#ef00ff"/>
<rect x="559.5" y="668.6" width="4.4" height="4.4" fill="#ff00f7"/>
<rect x="563.5" y="668.6" width="4.4" height="4.4" fill="#ff00e1"/>
<rect x="567.5" y="668.6" width="4.4" height="4.4" fill="#ff00ce"/>
<rect x="571.5" y="668.6" width="4.4" height="4.4" fill="#ff00bd"/>
<rect x="499.5" y="672.6" width="4.4" height="4.4" fill="#000eff"/>
<rect x="503.5" y="672.6" width="4.4" height="4.4" fill="#0007ff"/>
<rect x="507.5" y="672.6" width="8.4" height="4.4" fill="#0000ff"/>
<rect x="515.5" y="672.6" width="4.4" height="4.4" fill="#1500ff"/>
<rect x="519.5" y="672.6" width="4.4" height="4.4" fill="#2b00ff"/>
<rect x="523.5" y="672.6" width="4.4" height="4.4" fill="#4000ff"/>
<rect x="527.5" y="672.6" width="4.4" height="4.4" fill="#5500ff"/>
<rect x="531.5" y="672.6" width="4.4" height="4.4" fill="#6900ff"/>
<rect x="535.5" y="672.6" width="4.4" height="4.4" fill="#7e00ff"/>
<rect x="539.5" y="672.6" width="4.4" height="4.4" fill="#9400ff"/>
<rect x="543.5" y="672.6" width="4.4" height="4.4" fill="#a900ff"/>
<rect x="547.5" y="672.6" width="4.4" height="4.4" fill="#c000ff"/>
<rect x="551.5" y="672.6" width="4.4" height="4.4" fill="#d600ff"/>
<rect x="555.5" y="672.6" width="4.4" height="4.4" fill="#ee00ff"/>
<rect x="559.5" y="672.6" width="4.4" height="4.4" fill="#ff00f8"/>
<rect x="563.5" y="672.6" width="4.4" height="4.4" fill="#ff00e2"/>
<rect x="499.5" y="676.6" width="4.4" height="4.4" fill="#0002ff"/>
<rect x="503.5" y="676.6" width="8.4" height="4.4" fill="#0000ff"/>
<rect x="511.5" y="676.6" width="4.4" height="4.4" fill="#0300ff"/>
<rect x="515.5" y="676.6" width="4.4" height="4.4" fill="#1b00ff"/>
<rect x="519.5" y="676.6" width="4.4" height="4.4" fill="#3000ff"/>
<rect x="523.5" y="676.6" width="4.4" height="4.4" fill="#4400ff"/>
<rect x="527.5" y="676.6" width="4.4" height="4.4" fill="#5800ff"/>
<rect x="531.5" y="676.6" width="4.4" height="4.4" fill="#6c00ff"/>
<rect x="535.5" y="676.6" width="4.4" height="4.4" fill="#8100ff"/>
<rect x="539.5" y="676.6" width="4.4" height="4.4" fill="#9500ff"/>
<rect x="543.5" y="676.6" width="4.4" height="4.4" fill="#ab00ff"/>
<rect x="547.5" y="676.6" width="4.4" height="4.4" fill="#c000ff"/>
<rect x="551.5" y="676.6" width="4.4" height="4.4" fill="#d700ff"/>
<rect x="555.5" y="676.6" width="4.4" height="4.4" fill="#ed00ff"/>
<rect x="503.5" y="680.6" width="8.4" height="4.4" fill="#0000ff"/>
<rect x="511.5" y="680.6" width="4.4" height="4.4" fill="#0a00ff"/>
<rect x="515.5" y="680.6" width="4.4" height="4.4" fill="#2000ff"/>
<rect x="519.5" y="680.6" width="4.4" height="4.4" fill="#3400ff"/>
<rect x="523.5" y="680.6" width="4.4" height="4.4" fill="#4800ff"/>
<rect x="527.5" y="680.6" width="4.4" height="4.4" fill="#5b00ff"/>
<rect x="531.5" y="680.6" width="4.4" height="4.4" fill="#6f00ff"/>
<rect x="535.5" y="680.6" width="4.4" height="4.4" fill="#8300ff"/>
<rect x="539.5" y="680.6" width="4.4" height="4.4" fill="#9700ff"/>
<rect x="543.5" y="680.6" width="4.4" height="4.4" fill="#ac00ff"/>
<rect x="547.5" y="680.6" width="4.4" height="4.4" fill="#c100ff"/>
<rect x="507.5" y="684.6" width="4.4" height="4.4" fill="#0000ff"/>
<rect x="511.5" y="684.6" width="4.4" height="4.4" fill="#0f00ff"/>
<rect x="515.5" y="684.6" width="4.4" height="4.4" fill="#2400ff"/>
<rect x="519.5" y="684.6" width="4.4" height="4.4" fill="#3700ff"/>
<rect x="523.5" y="684.6" width="4.4" height="4.4" fill="#4b00ff"/>
<rect x="527.5" y="684.6" width="4.4" height="4.4" fill="#5e00ff"/>
<rect x="531.5" y="684.6" width="4.4" height="4.4" fill="#7100ff"/>
<rect x="535.5" y="684.6" width="4.4" height="4.4" fill="#8500ff"/>
<rect x="511.5" y="688.6" width="4.4" height="4.4" fill="#0f00ff"/>
<rect x="515.5" y="688.6" width="4.4" height="4.4" fill="#2400ff"/>
<rect x="519.5" y="688.6" width="4.4" height="4.4" fill="#3700ff"/>
<rect x="523.5" y="688.6" width="4.4" height="4.4" fill="#4b00ff"/>
<rect x="527.5" y="688.6" width="4.4" height="4.4" fill="#5e00ff"/>
</g></g>
<path d="M538.3 626.3 L542.9 619.6 L548.6 612.3 L553.7 606.6 L559.4 600.9 L565.3 595.7 L574.4 589.3 L580.7 585.6 L588.9 582.2 L599.2 579.7 L606.4 579.4 L612.0 579.8 L619.7 582.0 L627.1 585.1 L635.9 591.1 L642.4 596.2" fill="none" stroke="#4a2a2a" stroke-width="0.8" opacity="0.75" filter="url(#b1)"/>
<circle cx="586.8" cy="584.2" r="1.1" fill="#402040" opacity="0.8"/>
<g filter="url(#b2)" fill="#555">
<text x="579.3" y="446.8" font-size="6.6" font-weight="bold" fill="#333" text-anchor="middle">CIE1931</text>
<text x="574" y="579.6" font-size="5" fill="#503050">0.4299,0.3992</text>
<text x="476.6" y="694.8" font-size="4.8" text-anchor="middle">0</text>
<text x="502.3" y="694.8" font-size="4.8" text-anchor="middle">0.1</text>
<text x="528.0" y="694.8" font-size="4.8" text-anchor="middle">0.2</text>
<text x="553.7" y="694.8" font-size="4.8" text-anchor="middle">0.3</text>
<text x="579.4" y="694.8" font-size="4.8" text-anchor="middle">0.4</text>
<text x="605.1" y="694.8" font-size="4.8" text-anchor="middle">0.5</text>
<text x="630.8" y="694.8" font-size="4.8" text-anchor="middle">0.6</text>
<text x="656.5" y="694.8" font-size="4.8" text-anchor="middle">0.7</text>
<text x="682.2" y="694.8" font-size="4.8" text-anchor="middle">0.8</text>
<text x="690" y="694.8" font-size="4.8" text-anchor="middle">x</text>
<text x="475.1" y="687.6" font-size="4.8" text-anchor="end">0</text>
<text x="475.1" y="661.7" font-size="4.8" text-anchor="end">0.1</text>
<text x="475.1" y="635.7" font-size="4.8" text-anchor="end">0.2</text>
<text x="475.1" y="609.8" font-size="4.8" text-anchor="end">0.3</text>
<text x="475.1" y="583.9" font-size="4.8" text-anchor="end">0.4</text>
<text x="475.1" y="558.0" font-size="4.8" text-anchor="end">0.5</text>
<text x="475.1" y="532.0" font-size="4.8" text-anchor="end">0.6</text>
<text x="475.1" y="506.1" font-size="4.8" text-anchor="end">0.7</text>
<text x="475.1" y="480.2" font-size="4.8" text-anchor="end">0.8</text>
<text x="475.1" y="454.2" font-size="4.8" text-anchor="end">0.9</text>
<text x="465.5" y="455" font-size="4.8">y</text>
<text x="477" y="701.6" font-size="5.2" fill="#666">Created by AV_CIE_XYZ Ver 1.22</text>
</g>
<defs>
<linearGradient id="wg" gradientUnits="userSpaceOnUse" x1="310" y1="190" x2="420" y2="320">
<stop offset="0" stop-color="#dde8f3"/><stop offset="0.5" stop-color="#dde8f3"/><stop offset="1" stop-color="#e0eedc"/></linearGradient>
<clipPath id="wc"><circle cx="360.5" cy="242.7" r="69.5"/></clipPath>
</defs>
<g style="mix-blend-mode:multiply" filter="url(#b2)">
<path fill-rule="evenodd" fill="url(#wg)" d="M280.6 245.5a83.7 83.7 0 1 0 167.4 0a83.7 83.7 0 1 0 -167.4 0z M291.5 242.7a69 69 0 1 0 138 0a69 69 0 1 0 -138 0z"/>
<g clip-path="url(#wc)" stroke="#dde8f3" stroke-width="11" fill="none">
<line x1="263.5" y1="247.6" x2="422.4" y2="163.1"/>
<line x1="275.7" y1="270.5" x2="434.6" y2="186.0"/>
<line x1="287.7" y1="293.1" x2="446.6" y2="208.5"/>
</g>
<g fill="#e0eedc">
<path d="M388.5 259 C382 250 383 240 390.5 232 C396 242 395 251 388.5 259z"/>
<path d="M394 270 C400 262 409 258 419 260 C414 268 405 272 394 270z"/>
<path d="M384.5 283 C392 276 403 276 411 283 C402 289 392 289 384.5 283z"/>
<path d="M350 266 C357 262 366 264 371 271 C363 275 355 273 350 266z"/>
<path d="M367 287 C372 286 378 290 380 296 C374 297 369 293 367 287z"/>
<path d="M360 297 C365 296 371 300 373 306 C367 307 362 303 360 297z"/>
<path d="M358 310 C353 292 361 281 377 277 C390 273 394 263 390 246" fill="none" stroke="#e0eedc" stroke-width="2.6"/>
</g>
<g transform="translate(188.6 228.8) rotate(61)" fill="#dde8f3">
<rect x="0.0" y="-43.0" width="11.5" height="43.0"/>
<rect x="0.0" y="-43.0" width="50.0" height="11.5"/>
<rect x="38.5" y="-43.0" width="11.5" height="43.0"/>
<rect x="21.0" y="-43.0" width="7.0" height="30.0" opacity="0.5"/>
<rect x="58.0" y="-43.0" width="9.5" height="43.0"/>
<rect x="58.0" y="-43.0" width="34.0" height="9.5"/>
<rect x="58.0" y="-26.2" width="28.0" height="9.5"/>
<rect x="58.0" y="-9.5" width="34.0" height="9.5"/>
<rect x="101.0" y="-30.0" width="9.5" height="30.0"/>
<rect x="100.5" y="-43.5" width="10.5" height="10.5" fill="#ffd9c0"/>
<rect x="137.5" y="-43.0" width="9.5" height="43.0"/>
<rect x="118.0" y="-9.5" width="29.0" height="9.5"/>
<rect x="118.0" y="-20.0" width="9.5" height="20.0"/>
<rect x="151.0" y="-30.0" width="9.5" height="30.0"/>
<rect x="151.0" y="-43.0" width="9.5" height="9.5"/>
<rect x="173.5" y="-43.0" width="9.5" height="43.0"/>
<rect x="173.5" y="-9.5" width="30.5" height="9.5"/>
<rect x="194.5" y="-43.0" width="9.5" height="43.0"/>
</g>
</g>
</svg>
</body></html>
